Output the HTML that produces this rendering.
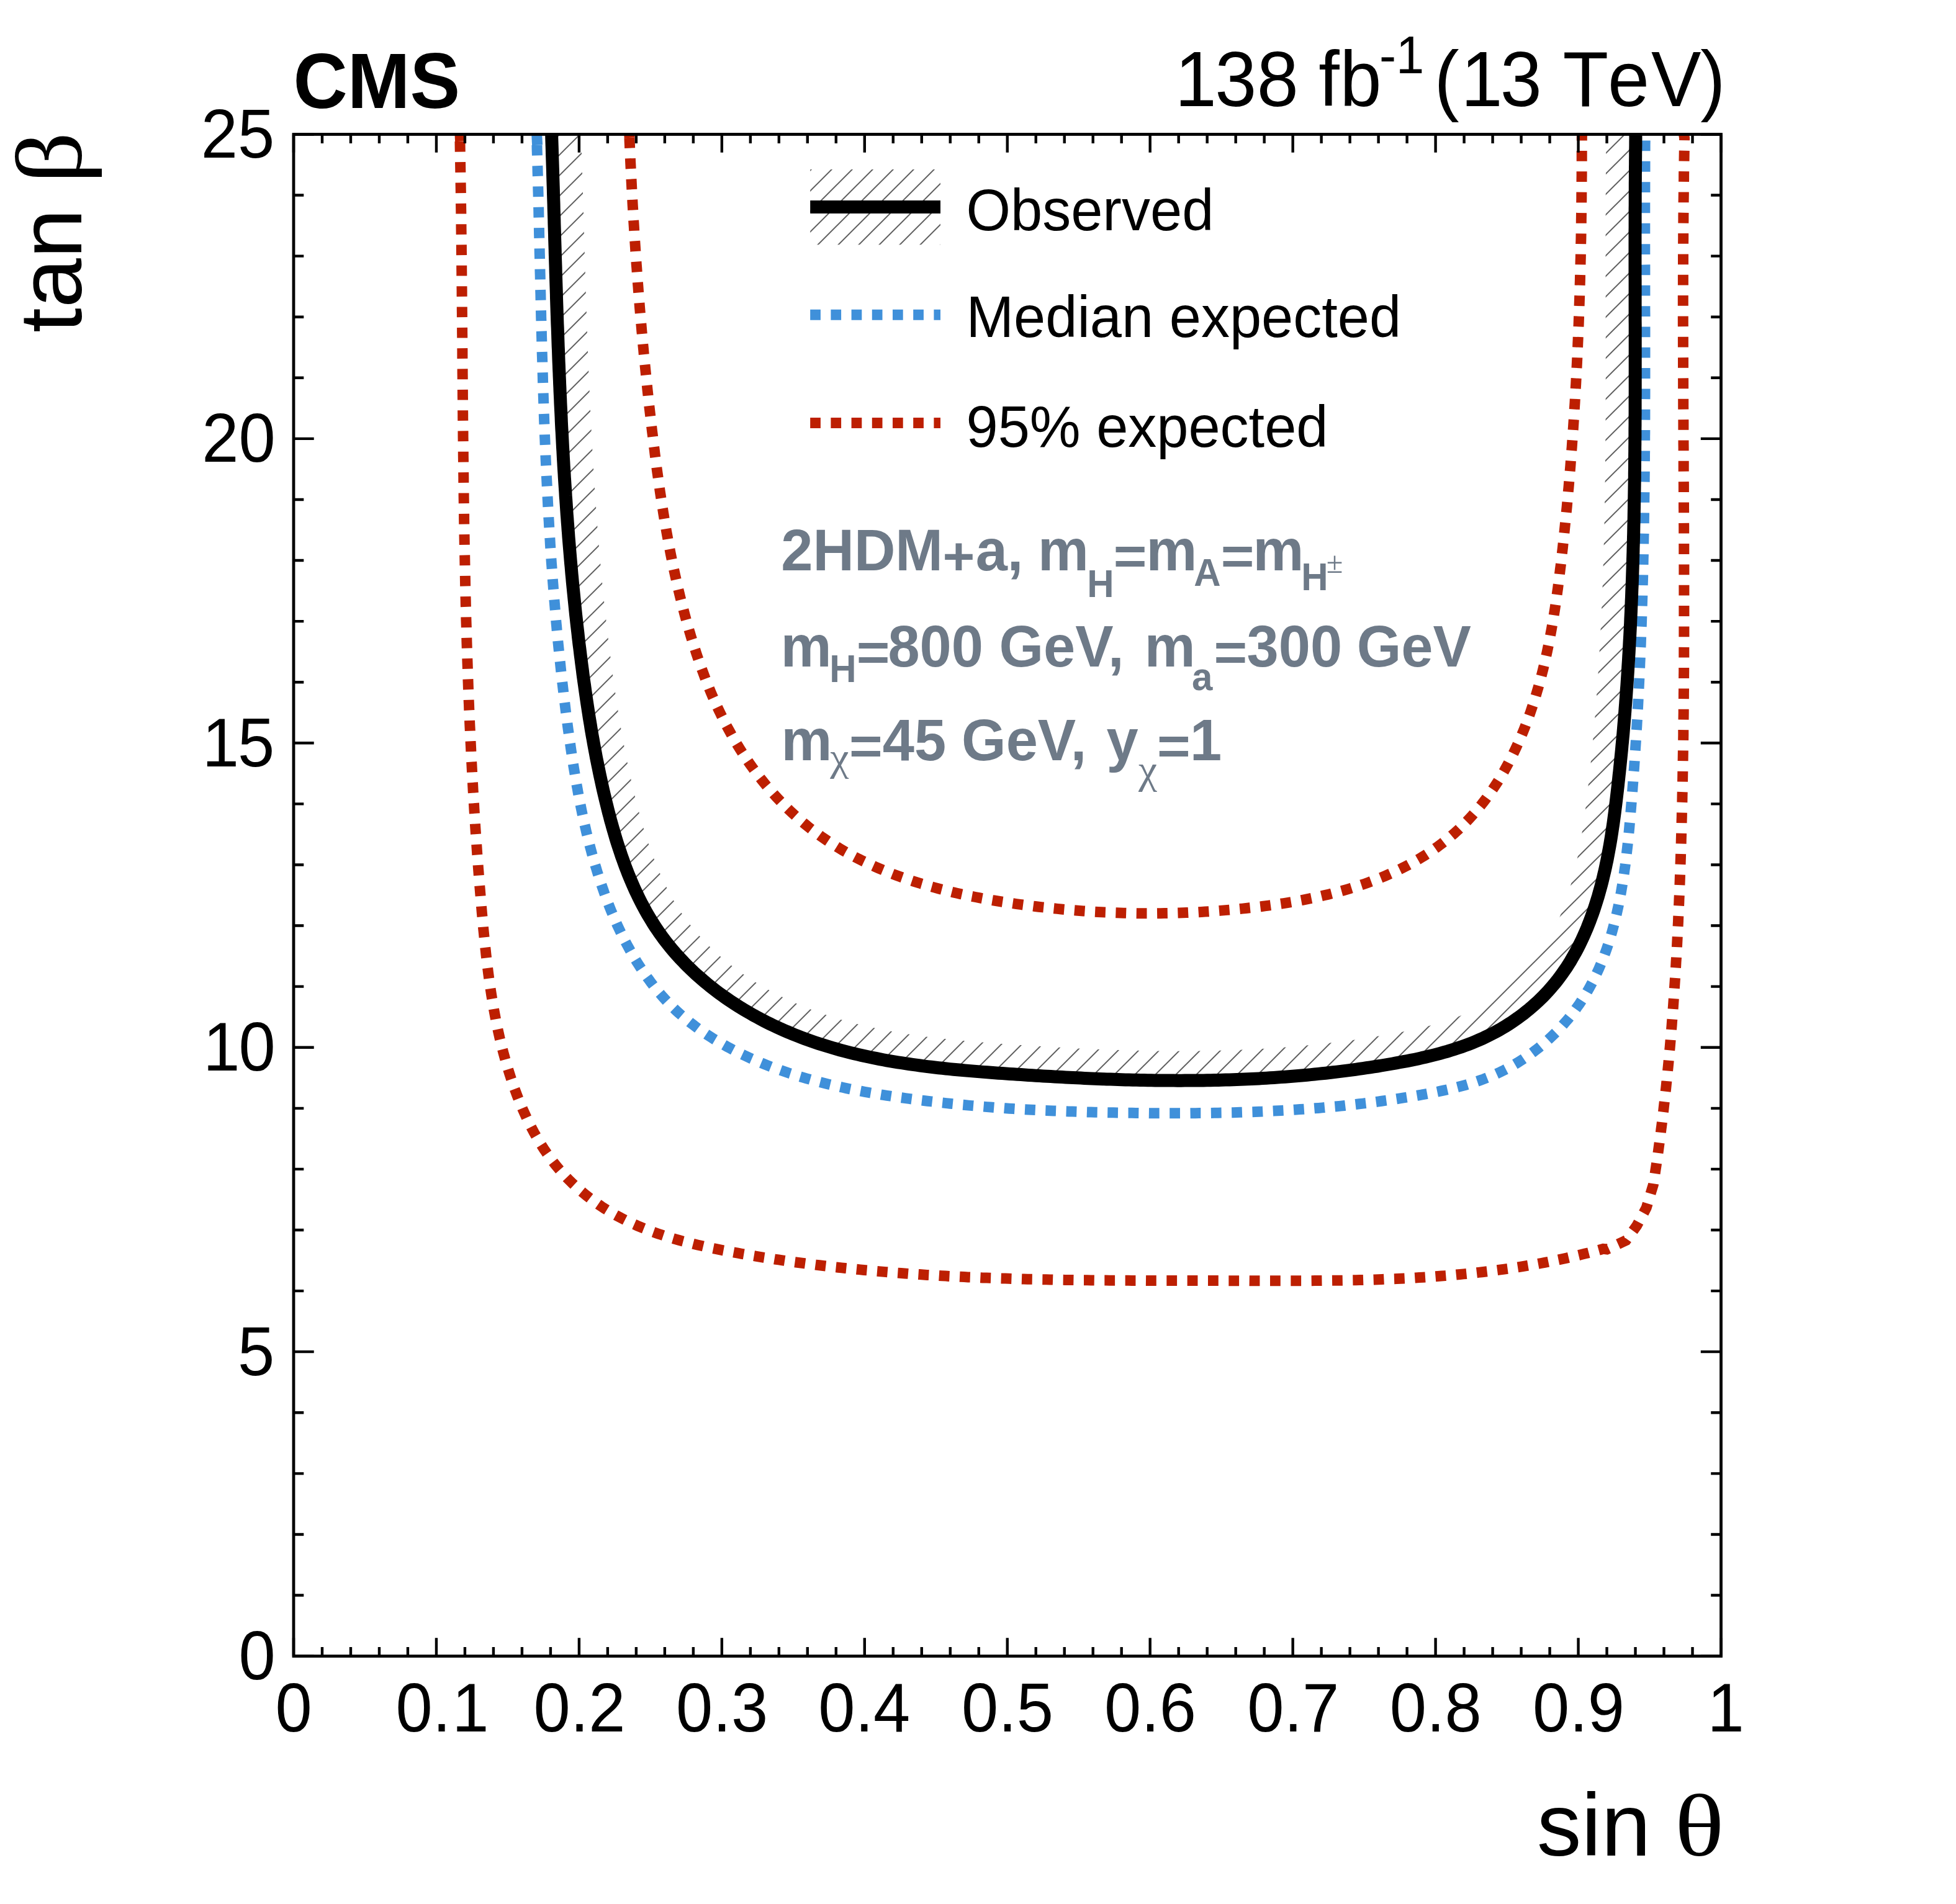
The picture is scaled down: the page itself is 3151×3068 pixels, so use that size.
<!DOCTYPE html>
<html><head><meta charset="utf-8"><title>CMS tan beta vs sin theta</title>
<style>html,body{margin:0;padding:0;background:#fff}svg{display:block}text{font-family:"Liberation Sans",sans-serif}.sy{font-family:"Liberation Serif",serif}</style></head><body>
<svg width="3151" height="3068" viewBox="0 0 3151 3068">
<defs>
<pattern id="h" patternUnits="userSpaceOnUse" width="33" height="33" x="-4.2" y="0"><path d="M-2 35L35 -2M-2 2L2 -2M31 35L35 31" stroke="#505050" stroke-width="1.9" fill="none"/></pattern>
<clipPath id="fr"><rect x="473.00" y="216.45" width="2299.50" height="2452.15"/></clipPath>
</defs>
<rect width="3151" height="3068" fill="#fff"/>
<g clip-path="url(#fr)">
<path d="M888.7 216.5 L888.8 222.7 L889.0 228.6 L889.2 234.6 L889.4 240.5 L889.5 246.5 L889.7 252.4 L889.9 258.4 L890.1 264.3 L890.3 270.3 L890.5 276.2 L890.6 282.2 L890.8 288.2 L891.0 294.1 L891.2 300.1 L891.4 306.1 L891.5 312.0 L891.7 318.0 L891.9 324.0 L892.1 330.0 L892.2 336.0 L892.4 342.0 L892.6 347.9 L892.8 353.9 L892.9 359.9 L893.1 365.9 L893.3 371.9 L893.5 377.9 L893.6 383.9 L893.8 389.9 L894.0 395.9 L894.2 401.9 L894.3 407.9 L894.5 413.9 L894.7 419.9 L894.9 425.9 L895.1 431.9 L895.2 437.9 L895.4 443.9 L895.6 449.9 L895.8 456.0 L896.0 462.0 L896.2 468.0 L896.4 474.0 L896.5 480.0 L896.7 486.0 L896.9 492.1 L897.1 498.1 L897.3 504.1 L897.5 510.1 L897.7 516.1 L897.9 522.2 L898.2 528.2 L898.4 534.2 L898.6 540.2 L898.8 546.3 L899.0 552.3 L899.2 558.3 L899.5 564.3 L899.7 570.4 L899.9 576.4 L900.1 582.4 L900.4 588.5 L900.6 594.5 L900.9 600.5 L901.1 606.5 L901.4 612.6 L901.6 618.6 L901.9 624.6 L902.1 630.7 L902.4 636.7 L902.7 642.7 L902.9 648.7 L903.2 654.8 L903.5 660.8 L903.8 666.8 L904.1 672.9 L904.3 678.9 L904.6 684.9 L904.9 690.9 L905.3 697.0 L905.6 703.0 L905.9 709.0 L906.2 715.0 L906.5 721.1 L906.9 727.1 L907.2 733.1 L907.5 739.1 L907.9 745.2 L908.2 751.2 L908.6 757.2 L909.0 763.2 L909.3 769.2 L909.7 775.3 L910.1 781.3 L910.5 787.3 L910.9 793.3 L911.2 799.3 L911.7 805.3 L912.1 811.3 L912.5 817.3 L912.9 823.4 L913.3 829.4 L913.8 835.4 L914.2 841.4 L914.7 847.4 L915.1 853.4 L915.6 859.4 L916.0 865.4 L916.5 871.4 L917.0 877.4 L917.5 883.4 L918.0 889.4 L918.5 895.3 L919.0 901.3 L919.5 907.3 L920.1 913.3 L920.6 919.3 L921.1 925.3 L921.7 931.2 L922.2 937.2 L922.8 943.2 L923.4 949.2 L924.0 955.1 L924.6 961.1 L925.2 967.1 L925.8 973.0 L926.4 979.0 L927.0 985.0 L927.6 990.9 L928.3 996.9 L928.9 1002.8 L929.6 1008.8 L930.3 1014.7 L931.0 1020.7 L931.6 1026.6 L932.3 1032.5 L933.0 1038.5 L933.8 1044.4 L934.5 1050.3 L935.2 1056.3 L936.0 1062.2 L936.7 1068.1 L937.5 1074.0 L938.3 1080.0 L939.0 1085.9 L939.8 1091.8 L940.6 1097.7 L941.5 1103.6 L942.3 1109.5 L943.1 1115.4 L944.0 1121.3 L944.8 1127.2 L945.7 1133.1 L946.6 1139.0 L947.5 1144.9 L948.4 1150.7 L949.3 1156.6 L950.3 1162.5 L951.3 1168.4 L952.2 1174.3 L953.2 1180.2 L954.2 1186.0 L955.3 1191.9 L956.3 1197.8 L957.4 1203.7 L958.5 1209.5 L959.6 1215.4 L960.7 1221.3 L961.9 1227.2 L963.1 1233.1 L964.3 1238.9 L965.5 1244.8 L966.7 1250.7 L968.0 1256.6 L969.3 1262.5 L970.6 1268.4 L971.9 1274.3 L973.3 1280.1 L974.7 1286.0 L976.1 1291.9 L977.6 1297.8 L979.0 1303.7 L980.5 1309.6 L982.1 1315.5 L983.6 1321.4 L985.3 1327.3 L986.9 1333.2 L988.6 1339.0 L990.3 1344.9 L992.0 1350.7 L993.8 1356.6 L995.7 1362.4 L997.6 1368.2 L999.5 1373.9 L1001.4 1379.7 L1003.5 1385.4 L1005.5 1391.2 L1007.6 1396.9 L1009.8 1402.5 L1012.0 1408.2 L1014.3 1413.8 L1016.6 1419.3 L1019.0 1424.9 L1021.4 1430.4 L1023.9 1435.9 L1026.5 1441.3 L1029.1 1446.7 L1031.8 1452.1 L1034.5 1457.4 L1037.4 1462.7 L1040.2 1468.0 L1043.2 1473.2 L1046.2 1478.3 L1049.3 1483.4 L1052.4 1488.4 L1055.6 1493.4 L1059.0 1498.4 L1062.3 1503.3 L1065.8 1508.1 L1069.3 1512.9 L1072.9 1517.6 L1076.6 1522.3 L1080.3 1526.9 L1084.1 1531.5 L1088.0 1536.0 L1092.0 1540.4 L1096.0 1544.8 L1100.1 1549.1 L1104.2 1553.4 L1108.4 1557.6 L1112.7 1561.8 L1117.0 1565.9 L1121.4 1569.9 L1125.9 1573.9 L1130.4 1577.8 L1134.9 1581.7 L1139.5 1585.5 L1144.2 1589.3 L1148.9 1593.0 L1153.7 1596.7 L1158.5 1600.3 L1163.3 1603.8 L1168.2 1607.3 L1173.2 1610.7 L1178.1 1614.1 L1183.2 1617.4 L1188.2 1620.6 L1193.3 1623.8 L1198.5 1626.9 L1203.7 1630.0 L1208.9 1633.0 L1214.1 1636.0 L1219.4 1638.9 L1224.7 1641.8 L1230.1 1644.6 L1235.4 1647.3 L1240.8 1650.0 L1246.2 1652.6 L1251.7 1655.1 L1257.2 1657.7 L1262.6 1660.1 L1268.2 1662.5 L1273.7 1664.8 L1279.2 1667.1 L1284.8 1669.3 L1290.4 1671.5 L1296.0 1673.6 L1301.6 1675.6 L1307.2 1677.6 L1312.9 1679.6 L1318.5 1681.5 L1324.2 1683.3 L1329.9 1685.1 L1335.6 1686.8 L1341.3 1688.5 L1347.1 1690.2 L1352.8 1691.8 L1358.6 1693.3 L1364.3 1694.8 L1370.1 1696.3 L1375.9 1697.7 L1381.8 1699.1 L1387.6 1700.5 L1393.4 1701.8 L1399.3 1703.0 L1405.1 1704.2 L1411.0 1705.4 L1416.9 1706.6 L1422.8 1707.7 L1428.6 1708.8 L1434.6 1709.8 L1440.5 1710.8 L1446.4 1711.8 L1452.3 1712.7 L1458.3 1713.7 L1464.2 1714.5 L1470.2 1715.4 L1476.1 1716.2 L1482.1 1717.0 L1488.1 1717.8 L1494.1 1718.6 L1500.0 1719.3 L1506.0 1720.0 L1512.0 1720.7 L1518.0 1721.3 L1524.0 1722.0 L1530.1 1722.6 L1536.1 1723.2 L1542.1 1723.8 L1548.1 1724.3 L1554.1 1724.9 L1560.2 1725.4 L1566.2 1725.9 L1572.2 1726.4 L1578.2 1726.9 L1584.3 1727.4 L1590.3 1727.8 L1596.3 1728.3 L1602.4 1728.7 L1608.4 1729.2 L1614.4 1729.6 L1620.5 1730.0 L1626.5 1730.4 L1632.5 1730.8 L1638.6 1731.2 L1644.6 1731.6 L1650.6 1732.0 L1656.7 1732.4 L1662.7 1732.8 L1668.7 1733.2 L1674.7 1733.5 L1680.7 1733.9 L1686.8 1734.2 L1692.8 1734.6 L1698.8 1734.9 L1704.8 1735.3 L1710.8 1735.6 L1716.8 1735.9 L1722.8 1736.2 L1728.8 1736.5 L1734.9 1736.8 L1740.9 1737.1 L1746.9 1737.4 L1752.9 1737.7 L1758.9 1737.9 L1764.9 1738.2 L1770.9 1738.4 L1776.9 1738.7 L1782.9 1738.9 L1788.9 1739.1 L1794.9 1739.3 L1800.9 1739.5 L1806.9 1739.7 L1812.9 1739.9 L1818.9 1740.0 L1824.8 1740.2 L1830.8 1740.3 L1836.8 1740.5 L1842.8 1740.6 L1848.8 1740.7 L1854.8 1740.8 L1860.8 1740.9 L1866.8 1741.0 L1872.8 1741.0 L1878.7 1741.1 L1884.7 1741.1 L1890.7 1741.1 L1896.7 1741.2 L1902.7 1741.2 L1908.7 1741.1 L1914.6 1741.1 L1920.6 1741.1 L1926.6 1741.0 L1932.6 1741.0 L1938.6 1740.9 L1944.5 1740.8 L1950.5 1740.7 L1956.5 1740.6 L1962.5 1740.4 L1968.4 1740.3 L1974.4 1740.1 L1980.4 1739.9 L1986.4 1739.7 L1992.3 1739.5 L1998.3 1739.3 L2004.3 1739.0 L2010.3 1738.8 L2016.2 1738.5 L2022.2 1738.2 L2028.2 1737.9 L2034.1 1737.5 L2040.1 1737.2 L2046.1 1736.8 L2052.1 1736.4 L2058.0 1736.0 L2064.0 1735.6 L2070.0 1735.2 L2075.9 1734.7 L2081.9 1734.3 L2087.9 1733.8 L2093.8 1733.3 L2099.8 1732.7 L2105.8 1732.2 L2111.8 1731.6 L2117.7 1731.0 L2123.7 1730.4 L2129.7 1729.8 L2135.6 1729.2 L2141.6 1728.5 L2147.6 1727.8 L2153.5 1727.1 L2159.5 1726.4 L2165.5 1725.6 L2171.5 1724.9 L2177.4 1724.1 L2183.4 1723.3 L2189.4 1722.4 L2195.3 1721.6 L2201.3 1720.7 L2207.3 1719.8 L2213.2 1718.9 L2219.2 1718.0 L2225.2 1717.0 L2231.2 1716.0 L2237.1 1715.0 L2243.1 1714.0 L2249.1 1712.9 L2255.0 1711.8 L2261.0 1710.7 L2267.0 1709.6 L2272.9 1708.4 L2278.9 1707.2 L2284.8 1705.9 L2290.7 1704.6 L2296.6 1703.2 L2302.5 1701.8 L2308.4 1700.4 L2314.3 1698.9 L2320.1 1697.3 L2325.9 1695.7 L2331.7 1694.1 L2337.5 1692.3 L2343.2 1690.5 L2349.0 1688.6 L2354.6 1686.7 L2360.3 1684.7 L2365.9 1682.6 L2371.5 1680.4 L2377.0 1678.1 L2382.5 1675.8 L2388.0 1673.4 L2393.4 1670.8 L2398.8 1668.2 L2404.1 1665.5 L2409.4 1662.7 L2414.7 1659.8 L2419.9 1656.8 L2425.0 1653.7 L2430.1 1650.5 L2435.1 1647.3 L2440.0 1643.9 L2444.9 1640.5 L2449.8 1636.9 L2454.5 1633.3 L2459.2 1629.6 L2463.9 1625.8 L2468.4 1621.9 L2472.9 1617.9 L2477.3 1613.9 L2481.6 1609.7 L2485.9 1605.5 L2490.0 1601.2 L2494.1 1596.8 L2498.1 1592.4 L2502.0 1587.8 L2505.8 1583.2 L2509.5 1578.6 L2513.1 1573.8 L2516.6 1569.0 L2520.0 1564.1 L2523.4 1559.1 L2526.6 1554.1 L2529.8 1549.0 L2532.8 1543.8 L2535.8 1538.6 L2538.7 1533.4 L2541.5 1528.1 L2544.2 1522.7 L2546.9 1517.3 L2549.4 1511.9 L2551.9 1506.4 L2554.3 1500.9 L2556.7 1495.3 L2558.9 1489.7 L2561.1 1484.1 L2563.2 1478.4 L2565.3 1472.8 L2567.3 1467.1 L2569.2 1461.3 L2571.0 1455.6 L2572.8 1449.9 L2574.6 1444.1 L2576.2 1438.3 L2577.8 1432.5 L2579.4 1426.7 L2580.9 1420.9 L2582.3 1415.1 L2583.7 1409.2 L2585.1 1403.4 L2586.4 1397.5 L2587.6 1391.6 L2588.9 1385.8 L2590.0 1379.9 L2591.1 1374.0 L2592.2 1368.1 L2593.3 1362.2 L2594.3 1356.2 L2595.3 1350.3 L2596.2 1344.4 L2597.1 1338.4 L2598.0 1332.5 L2598.9 1326.5 L2599.7 1320.6 L2600.5 1314.6 L2601.3 1308.7 L2602.0 1302.7 L2602.8 1296.7 L2603.5 1290.7 L2604.2 1284.8 L2604.9 1278.8 L2605.6 1272.8 L2606.3 1266.8 L2606.9 1260.9 L2607.6 1254.9 L2608.2 1248.9 L2608.9 1242.9 L2609.5 1236.9 L2610.1 1231.0 L2610.7 1225.0 L2611.3 1219.0 L2611.9 1213.0 L2612.5 1207.0 L2613.0 1201.0 L2613.6 1195.1 L2614.1 1189.1 L2614.7 1183.1 L2615.2 1177.1 L2615.7 1171.1 L2616.2 1165.1 L2616.7 1159.2 L2617.2 1153.2 L2617.7 1147.2 L2618.1 1141.2 L2618.6 1135.2 L2619.0 1129.2 L2619.5 1123.2 L2619.9 1117.2 L2620.3 1111.2 L2620.8 1105.3 L2621.2 1099.3 L2621.6 1093.3 L2622.0 1087.3 L2622.4 1081.3 L2622.7 1075.3 L2623.1 1069.3 L2623.5 1063.3 L2623.8 1057.3 L2624.2 1051.3 L2624.5 1045.3 L2624.8 1039.3 L2625.1 1033.3 L2625.5 1027.3 L2625.8 1021.3 L2626.1 1015.3 L2626.4 1009.4 L2626.7 1003.4 L2626.9 997.4 L2627.2 991.4 L2627.5 985.4 L2627.7 979.4 L2628.0 973.4 L2628.2 967.4 L2628.5 961.4 L2628.7 955.4 L2628.9 949.4 L2629.2 943.4 L2629.4 937.4 L2629.6 931.4 L2629.8 925.4 L2630.0 919.4 L2630.2 913.4 L2630.4 907.4 L2630.5 901.4 L2630.7 895.4 L2630.9 889.4 L2631.0 883.4 L2631.2 877.3 L2631.4 871.3 L2631.5 865.3 L2631.7 859.3 L2631.8 853.3 L2631.9 847.3 L2632.1 841.3 L2632.2 835.3 L2632.3 829.3 L2632.4 823.3 L2632.5 817.3 L2632.6 811.3 L2632.7 805.3 L2632.8 799.3 L2632.9 793.3 L2633.0 787.3 L2633.1 781.3 L2633.2 775.3 L2633.3 769.3 L2633.3 763.2 L2633.4 757.2 L2633.5 751.2 L2633.5 745.2 L2633.6 739.2 L2633.6 733.2 L2633.7 727.2 L2633.7 721.2 L2633.8 715.2 L2633.8 709.2 L2633.9 703.2 L2633.9 697.2 L2633.9 691.1 L2634.0 685.1 L2634.0 679.1 L2634.0 673.1 L2634.1 667.1 L2634.1 661.1 L2634.1 655.1 L2634.1 649.1 L2634.1 643.1 L2634.2 637.1 L2634.2 631.1 L2634.2 625.0 L2634.2 619.0 L2634.2 613.0 L2634.2 607.0 L2634.2 601.0 L2634.2 595.0 L2634.2 589.0 L2634.2 583.0 L2634.2 577.0 L2634.2 571.0 L2634.2 564.9 L2634.2 558.9 L2634.2 552.9 L2634.2 546.9 L2634.2 540.9 L2634.2 534.9 L2634.2 528.9 L2634.2 522.9 L2634.1 516.9 L2634.1 510.9 L2634.1 504.8 L2634.1 498.8 L2634.1 492.8 L2634.1 486.8 L2634.1 480.8 L2634.1 474.8 L2634.1 468.8 L2634.1 462.8 L2634.1 456.8 L2634.1 450.8 L2634.0 444.8 L2634.0 438.7 L2634.0 432.7 L2634.0 426.7 L2634.0 420.7 L2634.0 414.7 L2634.0 408.7 L2634.0 402.7 L2634.0 396.7 L2634.0 390.7 L2634.0 384.7 L2634.0 378.7 L2634.0 372.6 L2634.1 366.6 L2634.1 360.6 L2634.1 354.6 L2634.1 348.6 L2634.1 342.6 L2634.1 336.6 L2634.2 330.6 L2634.2 324.6 L2634.2 318.6 L2634.2 312.6 L2634.3 306.6 L2634.3 300.6 L2634.3 294.6 L2634.4 288.6 L2634.4 282.5 L2634.5 276.5 L2634.5 270.5 L2634.6 264.5 L2634.6 258.5 L2634.7 252.5 L2634.7 246.5 L2634.8 240.5 L2634.9 234.5 L2634.9 228.5 L2635.0 222.5 L2634.9 216.5 L2587.4 217.3 L2587.5 222.6 L2587.4 227.9 L2587.4 234.0 L2587.3 240.0 L2587.2 246.0 L2587.2 252.1 L2587.1 258.1 L2587.1 264.1 L2587.0 270.1 L2587.0 276.2 L2586.9 282.2 L2586.9 288.2 L2586.8 294.3 L2586.8 300.3 L2586.8 306.3 L2586.7 312.3 L2586.7 318.4 L2586.7 324.4 L2586.7 330.4 L2586.6 336.4 L2586.6 342.5 L2586.6 348.5 L2586.6 354.5 L2586.6 360.5 L2586.6 366.6 L2586.5 372.6 L2586.5 378.6 L2586.5 384.6 L2586.5 390.6 L2586.5 396.7 L2586.5 402.7 L2586.5 408.7 L2586.5 414.7 L2586.5 420.7 L2586.5 426.8 L2586.5 432.8 L2586.5 438.8 L2586.5 444.8 L2586.6 450.8 L2586.6 456.8 L2586.6 462.8 L2586.6 468.9 L2586.6 474.9 L2586.6 480.9 L2586.6 486.9 L2586.6 492.9 L2586.6 498.9 L2586.6 504.9 L2586.6 510.9 L2586.6 516.9 L2586.7 522.9 L2586.7 528.9 L2586.7 535.0 L2586.7 541.0 L2586.7 547.0 L2586.7 553.0 L2586.7 559.0 L2586.7 565.0 L2586.7 571.0 L2586.7 577.0 L2586.7 583.0 L2586.7 589.0 L2586.7 595.0 L2586.7 601.0 L2586.7 607.0 L2586.7 613.0 L2586.7 619.0 L2586.7 625.0 L2586.7 631.0 L2586.7 637.0 L2586.6 643.0 L2586.6 648.9 L2586.6 654.9 L2586.6 660.9 L2586.6 666.9 L2586.5 672.9 L2586.5 678.9 L2586.5 684.9 L2586.4 690.9 L2586.4 696.9 L2586.4 702.9 L2586.3 708.8 L2586.3 714.8 L2586.2 720.8 L2586.2 726.8 L2586.1 732.8 L2586.1 738.8 L2586.0 744.7 L2586.0 750.7 L2585.9 756.7 L2585.8 762.7 L2585.8 768.7 L2585.7 774.6 L2585.6 780.6 L2585.5 786.6 L2585.4 792.6 L2585.3 798.5 L2585.2 804.5 L2585.1 810.5 L2585.0 816.4 L2584.9 822.4 L2584.8 828.4 L2584.7 834.4 L2584.6 840.3 L2584.4 846.3 L2584.3 852.3 L2584.2 858.2 L2584.0 864.2 L2583.9 870.2 L2583.7 876.1 L2583.6 882.1 L2583.4 888.0 L2583.2 894.0 L2583.1 900.0 L2582.9 905.9 L2582.7 911.9 L2582.5 917.8 L2582.3 923.8 L2582.1 929.7 L2581.9 935.7 L2581.7 941.6 L2581.5 947.6 L2581.2 953.5 L2581.0 959.5 L2580.8 965.4 L2580.5 971.4 L2580.3 977.3 L2580.0 983.3 L2579.8 989.2 L2579.5 995.2 L2579.2 1001.1 L2578.9 1007.1 L2578.6 1013.0 L2578.3 1018.9 L2578.0 1024.9 L2577.7 1030.8 L2577.4 1036.7 L2577.1 1042.7 L2576.7 1048.6 L2576.4 1054.6 L2576.0 1060.5 L2575.7 1066.4 L2575.3 1072.3 L2574.9 1078.3 L2574.6 1084.2 L2574.2 1090.1 L2573.8 1096.1 L2573.4 1102.0 L2573.0 1107.9 L2572.5 1113.8 L2572.1 1119.8 L2571.7 1125.7 L2571.2 1131.6 L2570.8 1137.5 L2570.3 1143.4 L2569.8 1149.3 L2569.4 1155.3 L2568.9 1161.2 L2568.4 1167.1 L2567.9 1173.0 L2567.3 1178.9 L2566.8 1184.8 L2566.3 1190.7 L2565.7 1196.6 L2565.2 1202.5 L2564.6 1208.5 L2564.0 1214.4 L2563.4 1220.3 L2562.9 1226.2 L2562.3 1232.1 L2561.6 1238.0 L2561.0 1243.9 L2560.4 1249.8 L2559.7 1255.7 L2559.1 1261.6 L2558.4 1267.4 L2557.7 1273.3 L2557.1 1279.2 L2556.4 1285.1 L2555.6 1290.9 L2554.9 1296.7 L2554.2 1302.5 L2553.4 1308.3 L2552.6 1314.1 L2551.8 1319.9 L2551.0 1325.6 L2550.2 1331.3 L2549.3 1337.0 L2548.4 1342.7 L2547.4 1348.4 L2546.5 1354.0 L2545.5 1359.6 L2544.5 1365.2 L2543.4 1370.8 L2542.3 1376.4 L2541.2 1381.9 L2540.0 1387.4 L2538.8 1392.9 L2537.5 1398.4 L2536.2 1403.8 L2534.9 1409.2 L2533.5 1414.6 L2532.0 1420.0 L2530.5 1425.4 L2529.0 1430.7 L2527.4 1436.0 L2525.8 1441.2 L2524.1 1446.5 L2522.3 1451.7 L2520.5 1456.9 L2518.7 1462.0 L2516.7 1467.1 L2514.8 1472.2 L2512.7 1477.2 L2511.6 1479.9 L2356.1 1635.4 L2353.9 1636.3 L2349.0 1638.2 L2344.0 1640.1 L2338.9 1641.9 L2333.9 1643.6 L2328.7 1645.3 L2323.5 1646.9 L2318.3 1648.5 L2313.0 1650.0 L2307.7 1651.5 L2302.3 1652.9 L2296.9 1654.3 L2291.4 1655.7 L2285.9 1657.0 L2280.4 1658.2 L2274.8 1659.5 L2269.2 1660.7 L2263.5 1661.8 L2257.9 1662.9 L2252.2 1664.0 L2246.4 1665.1 L2240.7 1666.1 L2234.9 1667.2 L2229.1 1668.2 L2223.3 1669.2 L2217.5 1670.1 L2211.7 1671.0 L2205.9 1672.0 L2200.1 1672.9 L2194.3 1673.7 L2188.5 1674.6 L2182.7 1675.4 L2176.9 1676.2 L2171.1 1677.0 L2165.3 1677.8 L2159.5 1678.5 L2153.7 1679.2 L2147.9 1680.0 L2142.1 1680.6 L2136.3 1681.3 L2130.5 1682.0 L2124.6 1682.6 L2118.8 1683.2 L2113.0 1683.8 L2107.2 1684.3 L2101.4 1684.9 L2095.6 1685.4 L2089.7 1685.9 L2083.9 1686.4 L2078.1 1686.9 L2072.3 1687.4 L2066.4 1687.8 L2060.6 1688.2 L2054.8 1688.7 L2049.0 1689.0 L2043.1 1689.4 L2037.3 1689.8 L2031.5 1690.1 L2025.6 1690.4 L2019.8 1690.7 L2013.9 1691.0 L2008.1 1691.3 L2002.3 1691.6 L1996.4 1691.8 L1990.6 1692.0 L1984.7 1692.2 L1978.9 1692.4 L1973.0 1692.6 L1967.2 1692.8 L1961.3 1692.9 L1955.4 1693.1 L1949.6 1693.2 L1943.7 1693.3 L1937.9 1693.4 L1932.0 1693.5 L1926.1 1693.5 L1920.2 1693.6 L1914.4 1693.6 L1908.5 1693.6 L1902.6 1693.7 L1896.7 1693.7 L1890.9 1693.6 L1885.0 1693.6 L1879.1 1693.6 L1873.2 1693.5 L1867.3 1693.5 L1861.4 1693.4 L1855.5 1693.3 L1849.6 1693.2 L1843.7 1693.1 L1837.8 1693.0 L1831.9 1692.8 L1826.0 1692.7 L1820.1 1692.6 L1814.2 1692.4 L1808.3 1692.2 L1802.4 1692.0 L1796.5 1691.8 L1790.6 1691.6 L1784.6 1691.4 L1778.7 1691.2 L1772.8 1691.0 L1766.8 1690.7 L1760.9 1690.5 L1755.0 1690.2 L1749.0 1689.9 L1743.1 1689.7 L1737.2 1689.4 L1731.2 1689.1 L1725.3 1688.8 L1719.3 1688.5 L1713.4 1688.2 L1707.4 1687.8 L1701.5 1687.5 L1695.5 1687.2 L1689.5 1686.8 L1683.6 1686.5 L1677.6 1686.1 L1671.6 1685.7 L1665.6 1685.4 L1659.7 1685.0 L1653.7 1684.6 L1647.7 1684.2 L1641.7 1683.8 L1635.7 1683.4 L1629.7 1683.0 L1623.7 1682.6 L1617.8 1682.2 L1611.8 1681.8 L1605.8 1681.3 L1599.9 1680.9 L1593.9 1680.5 L1588.0 1680.0 L1582.0 1679.5 L1576.1 1679.1 L1570.2 1678.6 L1564.2 1678.1 L1558.3 1677.5 L1552.4 1677.0 L1546.6 1676.5 L1540.7 1675.9 L1534.8 1675.3 L1529.0 1674.7 L1523.1 1674.1 L1517.3 1673.5 L1511.5 1672.8 L1505.7 1672.1 L1499.9 1671.4 L1494.1 1670.7 L1488.3 1669.9 L1482.6 1669.2 L1476.8 1668.4 L1471.1 1667.5 L1465.4 1666.7 L1459.7 1665.8 L1454.0 1664.9 L1448.3 1664.0 L1442.7 1663.0 L1437.1 1662.0 L1431.4 1661.0 L1425.8 1659.9 L1420.2 1658.8 L1414.7 1657.7 L1409.1 1656.6 L1403.6 1655.4 L1398.1 1654.1 L1392.6 1652.9 L1387.1 1651.6 L1381.6 1650.2 L1376.2 1648.8 L1370.8 1647.4 L1365.4 1646.0 L1360.0 1644.5 L1354.6 1642.9 L1349.3 1641.3 L1344.0 1639.7 L1338.7 1638.0 L1333.4 1636.3 L1328.1 1634.6 L1322.9 1632.8 L1317.7 1630.9 L1312.5 1629.0 L1307.3 1627.1 L1302.2 1625.1 L1297.0 1623.0 L1291.9 1621.0 L1286.8 1618.8 L1281.8 1616.6 L1276.7 1614.4 L1271.7 1612.1 L1266.7 1609.7 L1261.7 1607.3 L1256.8 1604.9 L1251.8 1602.3 L1247.0 1599.8 L1242.1 1597.2 L1237.3 1594.5 L1232.5 1591.8 L1227.7 1589.1 L1223.0 1586.2 L1218.3 1583.4 L1213.7 1580.5 L1209.1 1577.5 L1204.5 1574.5 L1200.0 1571.5 L1195.5 1568.4 L1191.1 1565.2 L1186.7 1562.0 L1182.3 1558.8 L1178.0 1555.5 L1173.8 1552.2 L1169.6 1548.8 L1165.5 1545.3 L1161.4 1541.9 L1157.4 1538.4 L1153.4 1534.8 L1149.5 1531.2 L1145.6 1527.5 L1141.8 1523.8 L1138.1 1520.1 L1134.4 1516.3 L1130.8 1512.4 L1127.2 1508.6 L1123.7 1504.6 L1120.3 1500.7 L1117.0 1496.7 L1113.7 1492.6 L1110.5 1488.5 L1107.3 1484.4 L1104.2 1480.2 L1101.2 1476.0 L1098.3 1471.7 L1095.4 1467.4 L1092.5 1463.0 L1089.7 1458.5 L1087.0 1454.0 L1084.3 1449.4 L1081.7 1444.8 L1079.1 1440.1 L1076.6 1435.4 L1074.2 1430.6 L1071.7 1425.8 L1069.4 1420.9 L1067.1 1415.9 L1064.8 1411.0 L1062.6 1405.9 L1060.4 1400.8 L1058.2 1395.7 L1056.1 1390.5 L1054.1 1385.3 L1052.1 1380.1 L1050.1 1374.8 L1048.2 1369.5 L1046.3 1364.1 L1044.5 1358.8 L1042.7 1353.3 L1040.9 1347.9 L1039.2 1342.4 L1037.5 1336.9 L1035.8 1331.4 L1034.2 1325.8 L1032.6 1320.2 L1031.0 1314.6 L1029.5 1309.0 L1028.0 1303.4 L1026.5 1297.7 L1025.1 1292.1 L1023.7 1286.4 L1022.3 1280.7 L1020.9 1275.0 L1019.5 1269.3 L1018.2 1263.6 L1016.9 1257.9 L1015.7 1252.2 L1014.4 1246.5 L1013.2 1240.8 L1012.0 1235.1 L1010.8 1229.4 L1009.6 1223.7 L1008.5 1218.0 L1007.4 1212.2 L1006.3 1206.5 L1005.2 1200.8 L1004.1 1195.1 L1003.1 1189.3 L1002.0 1183.6 L1001.0 1177.9 L1000.0 1172.1 L999.1 1166.4 L998.1 1160.6 L997.2 1154.9 L996.2 1149.1 L995.3 1143.4 L994.4 1137.6 L993.5 1131.8 L992.7 1126.0 L991.8 1120.3 L991.0 1114.5 L990.1 1108.7 L989.3 1102.9 L988.5 1097.1 L987.7 1091.2 L986.9 1085.4 L986.1 1079.6 L985.3 1073.8 L984.6 1067.9 L983.8 1062.1 L983.1 1056.2 L982.4 1050.4 L981.6 1044.5 L980.9 1038.7 L980.2 1032.8 L979.5 1027.0 L978.8 1021.1 L978.1 1015.2 L977.5 1009.4 L976.8 1003.5 L976.2 997.6 L975.5 991.7 L974.9 985.9 L974.3 980.0 L973.6 974.1 L973.0 968.2 L972.4 962.3 L971.8 956.4 L971.2 950.5 L970.7 944.6 L970.1 938.7 L969.5 932.8 L969.0 926.9 L968.4 920.9 L967.9 915.0 L967.4 909.1 L966.8 903.2 L966.3 897.2 L965.8 891.3 L965.3 885.4 L964.8 879.5 L964.3 873.5 L963.9 867.6 L963.4 861.6 L962.9 855.7 L962.5 849.8 L962.0 843.8 L961.6 837.9 L961.1 831.9 L960.7 826.0 L960.3 820.0 L959.9 814.0 L959.5 808.1 L959.0 802.1 L958.6 796.2 L958.2 790.2 L957.9 784.2 L957.5 778.3 L957.1 772.3 L956.7 766.3 L956.4 760.3 L956.0 754.4 L955.6 748.4 L955.3 742.4 L955.0 736.4 L954.6 730.4 L954.3 724.5 L954.0 718.5 L953.6 712.5 L953.3 706.5 L953.0 700.5 L952.7 694.5 L952.4 688.5 L952.1 682.6 L951.8 676.6 L951.5 670.6 L951.2 664.6 L950.9 658.6 L950.7 652.6 L950.4 646.6 L950.1 640.6 L949.8 634.6 L949.6 628.6 L949.3 622.6 L949.1 616.6 L948.8 610.6 L948.6 604.6 L948.3 598.6 L948.1 592.6 L947.8 586.6 L947.6 580.6 L947.4 574.6 L947.1 568.6 L946.9 562.6 L946.7 556.6 L946.5 550.6 L946.3 544.6 L946.0 538.5 L945.8 532.5 L945.6 526.5 L945.4 520.5 L945.2 514.5 L945.0 508.5 L944.8 502.5 L944.6 496.5 L944.4 490.5 L944.2 484.5 L944.0 478.5 L943.8 472.5 L943.6 466.5 L943.5 460.5 L943.3 454.5 L943.1 448.5 L942.9 442.5 L942.7 436.5 L942.5 430.5 L942.4 424.5 L942.2 418.5 L942.0 412.5 L941.8 406.5 L941.6 400.5 L941.5 394.5 L941.3 388.5 L941.1 382.5 L940.9 376.5 L940.8 370.5 L940.6 364.5 L940.4 358.5 L940.2 352.5 L940.1 346.6 L939.9 340.6 L939.7 334.6 L939.5 328.6 L939.4 322.6 L939.2 316.6 L939.0 310.6 L938.8 304.7 L938.7 298.7 L938.5 292.7 L938.3 286.7 L938.1 280.8 L937.9 274.8 L937.8 268.8 L937.6 262.9 L937.4 256.9 L937.2 250.9 L937.0 245.0 L936.8 239.0 L936.6 233.0 L936.4 227.1 L936.3 221.6 L936.2 215.9Z" fill="url(#h)"/>
<path d="M741.0 216.5 L740.9 222.5 L741.0 228.5 L741.1 234.5 L741.2 240.5 L741.3 246.5 L741.4 252.5 L741.5 258.5 L741.6 264.5 L741.7 270.6 L741.8 276.6 L741.9 282.6 L742.0 288.6 L742.1 294.6 L742.2 300.6 L742.3 306.6 L742.4 312.6 L742.4 318.7 L742.5 324.7 L742.6 330.7 L742.7 336.7 L742.8 342.7 L742.8 348.7 L742.9 354.7 L743.0 360.7 L743.0 366.8 L743.1 372.8 L743.2 378.8 L743.2 384.8 L743.3 390.8 L743.4 396.8 L743.4 402.8 L743.5 408.8 L743.6 414.8 L743.6 420.8 L743.7 426.9 L743.7 432.9 L743.8 438.9 L743.8 444.9 L743.9 450.9 L744.0 456.9 L744.0 462.9 L744.1 468.9 L744.1 474.9 L744.2 480.9 L744.2 487.0 L744.3 493.0 L744.3 499.0 L744.4 505.0 L744.4 511.0 L744.5 517.0 L744.5 523.0 L744.6 529.0 L744.6 535.0 L744.7 541.0 L744.7 547.0 L744.8 553.1 L744.8 559.1 L744.9 565.1 L744.9 571.1 L744.9 577.1 L745.0 583.1 L745.0 589.1 L745.1 595.1 L745.1 601.1 L745.2 607.1 L745.2 613.1 L745.3 619.1 L745.3 625.1 L745.4 631.2 L745.4 637.2 L745.5 643.2 L745.5 649.2 L745.6 655.2 L745.6 661.2 L745.7 667.2 L745.7 673.2 L745.8 679.2 L745.9 685.2 L745.9 691.2 L746.0 697.2 L746.0 703.2 L746.1 709.2 L746.2 715.3 L746.2 721.3 L746.3 727.3 L746.3 733.3 L746.4 739.3 L746.5 745.3 L746.5 751.3 L746.6 757.3 L746.7 763.3 L746.8 769.3 L746.8 775.3 L746.9 781.3 L747.0 787.3 L747.1 793.3 L747.1 799.3 L747.2 805.3 L747.3 811.3 L747.4 817.3 L747.5 823.3 L747.6 829.4 L747.6 835.4 L747.7 841.4 L747.8 847.4 L747.9 853.4 L748.0 859.4 L748.1 865.4 L748.2 871.4 L748.3 877.4 L748.4 883.4 L748.5 889.4 L748.7 895.4 L748.8 901.4 L748.9 907.4 L749.0 913.4 L749.1 919.4 L749.3 925.4 L749.4 931.4 L749.5 937.4 L749.6 943.4 L749.8 949.4 L749.9 955.4 L750.0 961.4 L750.2 967.4 L750.3 973.4 L750.5 979.5 L750.6 985.5 L750.8 991.5 L750.9 997.5 L751.1 1003.5 L751.3 1009.5 L751.4 1015.5 L751.6 1021.5 L751.8 1027.5 L751.9 1033.5 L752.1 1039.5 L752.3 1045.5 L752.5 1051.5 L752.7 1057.5 L752.9 1063.5 L753.1 1069.5 L753.3 1075.5 L753.5 1081.5 L753.7 1087.5 L753.9 1093.5 L754.1 1099.5 L754.3 1105.5 L754.5 1111.5 L754.8 1117.5 L755.0 1123.5 L755.2 1129.5 L755.5 1135.5 L755.7 1141.5 L756.0 1147.5 L756.2 1153.5 L756.5 1159.5 L756.7 1165.5 L757.0 1171.5 L757.3 1177.5 L757.5 1183.5 L757.8 1189.5 L758.1 1195.5 L758.4 1201.5 L758.7 1207.5 L758.9 1213.5 L759.2 1219.5 L759.5 1225.5 L759.9 1231.5 L760.2 1237.5 L760.5 1243.5 L760.8 1249.5 L761.1 1255.5 L761.5 1261.5 L761.8 1267.5 L762.1 1273.5 L762.5 1279.5 L762.8 1285.5 L763.2 1291.5 L763.6 1297.5 L763.9 1303.5 L764.3 1309.5 L764.7 1315.5 L765.0 1321.5 L765.4 1327.5 L765.8 1333.5 L766.2 1339.5 L766.6 1345.5 L767.0 1351.5 L767.5 1357.5 L767.9 1363.5 L768.3 1369.5 L768.7 1375.5 L769.2 1381.5 L769.6 1387.5 L770.1 1393.5 L770.5 1399.5 L771.0 1405.5 L771.4 1411.5 L771.9 1417.5 L772.4 1423.5 L772.9 1429.5 L773.4 1435.5 L773.9 1441.5 L774.4 1447.5 L774.9 1453.5 L775.4 1459.5 L775.9 1465.5 L776.4 1471.5 L777.0 1477.5 L777.5 1483.5 L778.1 1489.5 L778.6 1495.5 L779.2 1501.5 L779.8 1507.5 L780.4 1513.5 L781.0 1519.5 L781.6 1525.5 L782.3 1531.5 L782.9 1537.4 L783.6 1543.4 L784.3 1549.4 L785.0 1555.4 L785.8 1561.3 L786.5 1567.3 L787.3 1573.2 L788.1 1579.2 L789.0 1585.1 L789.8 1591.1 L790.7 1597.0 L791.6 1602.9 L792.6 1608.9 L793.6 1614.8 L794.6 1620.7 L795.6 1626.6 L796.7 1632.5 L797.8 1638.3 L798.9 1644.2 L800.1 1650.1 L801.3 1655.9 L802.6 1661.8 L803.9 1667.6 L805.2 1673.5 L806.6 1679.3 L808.0 1685.1 L809.5 1690.9 L811.0 1696.7 L812.6 1702.4 L814.2 1708.2 L815.8 1714.0 L817.5 1719.7 L819.3 1725.4 L821.1 1731.1 L822.9 1736.8 L824.8 1742.5 L826.8 1748.2 L828.8 1753.9 L830.9 1759.5 L833.0 1765.2 L835.2 1770.8 L837.4 1776.4 L839.8 1781.9 L842.1 1787.5 L844.6 1793.0 L847.1 1798.5 L849.6 1804.0 L852.3 1809.4 L855.0 1814.8 L857.8 1820.2 L860.6 1825.5 L863.6 1830.7 L866.6 1835.9 L869.7 1841.1 L872.9 1846.2 L876.1 1851.3 L879.5 1856.3 L882.9 1861.2 L886.5 1866.1 L890.1 1870.9 L893.8 1875.7 L897.6 1880.3 L901.5 1884.9 L905.5 1889.5 L909.5 1893.9 L913.7 1898.3 L917.9 1902.6 L922.2 1906.8 L926.6 1910.9 L931.1 1915.0 L935.7 1919.0 L940.3 1922.8 L944.9 1926.6 L949.7 1930.3 L954.5 1934.0 L959.3 1937.5 L964.3 1940.9 L969.2 1944.3 L974.2 1947.5 L979.3 1950.6 L984.4 1953.7 L989.6 1956.7 L994.8 1959.5 L1000.0 1962.3 L1005.3 1965.0 L1010.6 1967.7 L1016.0 1970.2 L1021.4 1972.7 L1026.8 1975.1 L1032.3 1977.4 L1037.8 1979.6 L1043.3 1981.8 L1048.9 1983.9 L1054.5 1985.9 L1060.1 1987.9 L1065.8 1989.8 L1071.5 1991.7 L1077.2 1993.5 L1082.9 1995.2 L1088.6 1996.9 L1094.4 1998.5 L1100.2 2000.1 L1106.0 2001.6 L1111.9 2003.1 L1117.7 2004.6 L1123.6 2006.0 L1129.5 2007.3 L1135.4 2008.7 L1141.3 2009.9 L1147.2 2011.2 L1153.1 2012.4 L1159.1 2013.6 L1165.0 2014.8 L1170.9 2015.9 L1176.9 2017.0 L1182.9 2018.1 L1188.8 2019.2 L1194.8 2020.3 L1200.7 2021.3 L1206.7 2022.3 L1212.6 2023.3 L1218.6 2024.3 L1224.6 2025.3 L1230.5 2026.3 L1236.5 2027.2 L1242.5 2028.1 L1248.4 2029.1 L1254.4 2029.9 L1260.4 2030.8 L1266.3 2031.7 L1272.3 2032.5 L1278.2 2033.4 L1284.2 2034.2 L1290.2 2035.0 L1296.2 2035.8 L1302.1 2036.6 L1308.1 2037.3 L1314.1 2038.1 L1320.0 2038.8 L1326.0 2039.5 L1332.0 2040.2 L1337.9 2040.9 L1343.9 2041.6 L1349.9 2042.2 L1355.9 2042.9 L1361.8 2043.5 L1367.8 2044.1 L1373.8 2044.7 L1379.8 2045.3 L1385.8 2045.9 L1391.7 2046.5 L1397.7 2047.0 L1403.7 2047.6 L1409.7 2048.1 L1415.6 2048.6 L1421.6 2049.1 L1427.6 2049.6 L1433.6 2050.1 L1439.6 2050.6 L1445.6 2051.1 L1451.5 2051.5 L1457.5 2051.9 L1463.5 2052.4 L1469.5 2052.8 L1475.5 2053.2 L1481.5 2053.6 L1487.4 2054.0 L1493.4 2054.4 L1499.4 2054.7 L1505.4 2055.1 L1511.4 2055.4 L1517.4 2055.8 L1523.4 2056.1 L1529.4 2056.4 L1535.4 2056.7 L1541.3 2057.0 L1547.3 2057.3 L1553.3 2057.6 L1559.3 2057.9 L1565.3 2058.1 L1571.3 2058.4 L1577.3 2058.6 L1583.3 2058.9 L1589.3 2059.1 L1595.3 2059.3 L1601.3 2059.5 L1607.3 2059.7 L1613.3 2059.9 L1619.3 2060.1 L1625.3 2060.3 L1631.3 2060.5 L1637.3 2060.7 L1643.3 2060.8 L1649.3 2061.0 L1655.3 2061.2 L1661.3 2061.3 L1667.3 2061.4 L1673.3 2061.6 L1679.3 2061.7 L1685.3 2061.8 L1691.3 2061.9 L1697.3 2062.1 L1703.3 2062.2 L1709.3 2062.3 L1715.3 2062.4 L1721.3 2062.4 L1727.3 2062.5 L1733.3 2062.6 L1739.3 2062.7 L1745.3 2062.8 L1751.3 2062.8 L1757.3 2062.9 L1763.3 2063.0 L1769.3 2063.0 L1775.3 2063.1 L1781.3 2063.1 L1787.3 2063.2 L1793.3 2063.2 L1799.4 2063.2 L1805.4 2063.3 L1811.4 2063.3 L1817.4 2063.3 L1823.4 2063.4 L1829.4 2063.4 L1835.4 2063.4 L1841.4 2063.4 L1847.4 2063.5 L1853.4 2063.5 L1859.5 2063.5 L1865.5 2063.5 L1871.5 2063.5 L1877.5 2063.5 L1883.5 2063.5 L1889.5 2063.6 L1895.5 2063.6 L1901.5 2063.6 L1907.6 2063.6 L1913.6 2063.6 L1919.6 2063.6 L1925.6 2063.6 L1931.6 2063.6 L1937.6 2063.6 L1943.6 2063.6 L1949.7 2063.6 L1955.7 2063.6 L1961.7 2063.6 L1967.7 2063.6 L1973.7 2063.7 L1979.7 2063.7 L1985.8 2063.7 L1991.8 2063.7 L1997.8 2063.7 L2003.8 2063.7 L2009.8 2063.7 L2015.9 2063.8 L2021.9 2063.8 L2027.9 2063.8 L2033.9 2063.8 L2039.9 2063.8 L2045.9 2063.8 L2052.0 2063.8 L2058.0 2063.8 L2064.0 2063.8 L2070.0 2063.8 L2076.0 2063.8 L2082.0 2063.8 L2088.1 2063.8 L2094.1 2063.8 L2100.1 2063.8 L2106.1 2063.7 L2112.1 2063.7 L2118.1 2063.6 L2124.2 2063.6 L2130.2 2063.5 L2136.2 2063.5 L2142.2 2063.4 L2148.2 2063.3 L2154.2 2063.3 L2160.2 2063.2 L2166.2 2063.1 L2172.2 2062.9 L2178.2 2062.8 L2184.3 2062.7 L2190.3 2062.6 L2196.3 2062.4 L2202.3 2062.2 L2208.3 2062.1 L2214.3 2061.9 L2220.3 2061.7 L2226.3 2061.5 L2232.3 2061.2 L2238.3 2061.0 L2244.3 2060.7 L2250.2 2060.5 L2256.2 2060.2 L2262.2 2059.9 L2268.2 2059.6 L2274.2 2059.3 L2280.2 2058.9 L2286.2 2058.6 L2292.2 2058.2 L2298.1 2057.8 L2304.1 2057.4 L2310.1 2057.0 L2316.1 2056.5 L2322.1 2056.1 L2328.0 2055.6 L2334.0 2055.1 L2340.0 2054.6 L2345.9 2054.0 L2351.9 2053.5 L2357.9 2052.9 L2363.8 2052.3 L2369.8 2051.7 L2375.7 2051.1 L2381.7 2050.4 L2387.6 2049.7 L2393.6 2049.0 L2399.5 2048.3 L2405.5 2047.5 L2411.4 2046.7 L2417.4 2045.9 L2423.3 2045.1 L2429.3 2044.3 L2435.2 2043.4 L2441.1 2042.5 L2447.0 2041.6 L2453.0 2040.6 L2458.9 2039.6 L2464.8 2038.6 L2470.7 2037.6 L2476.7 2036.6 L2482.6 2035.5 L2488.5 2034.4 L2494.4 2033.2 L2500.3 2032.0 L2506.2 2030.8 L2512.1 2029.6 L2518.0 2028.4 L2523.9 2027.1 L2529.8 2025.7 L2535.7 2024.4 L2541.5 2023.0 L2547.4 2021.6 L2553.3 2020.1 L2559.2 2018.7 L2565.0 2017.2 L2570.9 2015.6 L2576.8 2014.0 L2582.6 2012.4 L2588.6 2013.0 L2594.8 2010.2 L2600.9 2007.3 L2607.1 2004.5 L2613.2 2001.6 L2619.4 1998.8 L2623.7 1992.8 L2628.1 1986.8 L2632.4 1980.9 L2636.7 1974.9 L2639.8 1969.1 L2642.9 1963.4 L2646.1 1957.6 L2649.2 1951.9 L2652.2 1946.1 L2654.1 1939.8 L2656.0 1933.5 L2657.9 1927.3 L2659.7 1921.0 L2661.6 1914.7 L2663.4 1908.9 L2664.3 1903.0 L2665.2 1897.0 L2666.1 1891.1 L2667.0 1885.1 L2667.9 1879.2 L2668.8 1873.2 L2669.6 1867.3 L2670.5 1861.3 L2671.3 1855.4 L2672.1 1849.4 L2672.9 1843.4 L2673.7 1837.5 L2674.5 1831.5 L2675.3 1825.6 L2676.0 1819.6 L2676.8 1813.6 L2677.5 1807.7 L2678.2 1801.7 L2678.9 1795.7 L2679.7 1789.8 L2680.3 1783.8 L2681.0 1777.8 L2681.7 1771.9 L2682.4 1765.9 L2683.0 1759.9 L2683.7 1753.9 L2684.3 1748.0 L2684.9 1742.0 L2685.5 1736.0 L2686.1 1730.0 L2686.7 1724.1 L2687.3 1718.1 L2687.9 1712.1 L2688.4 1706.1 L2689.0 1700.1 L2689.5 1694.2 L2690.1 1688.2 L2690.6 1682.2 L2691.1 1676.2 L2691.6 1670.2 L2692.1 1664.2 L2692.6 1658.3 L2693.1 1652.3 L2693.5 1646.3 L2694.0 1640.3 L2694.5 1634.3 L2694.9 1628.3 L2695.4 1622.3 L2695.8 1616.4 L2696.2 1610.4 L2696.6 1604.4 L2697.0 1598.4 L2697.4 1592.4 L2697.8 1586.4 L2698.2 1580.4 L2698.6 1574.4 L2699.0 1568.4 L2699.3 1562.4 L2699.7 1556.4 L2700.0 1550.4 L2700.4 1544.4 L2700.7 1538.4 L2701.1 1532.4 L2701.4 1526.4 L2701.7 1520.5 L2702.0 1514.5 L2702.3 1508.5 L2702.6 1502.5 L2702.9 1496.5 L2703.2 1490.5 L2703.5 1484.5 L2703.7 1478.5 L2704.0 1472.5 L2704.3 1466.5 L2704.5 1460.5 L2704.8 1454.5 L2705.0 1448.5 L2705.3 1442.5 L2705.5 1436.4 L2705.7 1430.4 L2706.0 1424.4 L2706.2 1418.4 L2706.4 1412.4 L2706.6 1406.4 L2706.8 1400.4 L2707.0 1394.4 L2707.2 1388.4 L2707.4 1382.4 L2707.6 1376.4 L2707.8 1370.4 L2708.0 1364.4 L2708.2 1358.4 L2708.3 1352.4 L2708.5 1346.4 L2708.7 1340.4 L2708.8 1334.4 L2709.0 1328.4 L2709.1 1322.4 L2709.3 1316.4 L2709.4 1310.3 L2709.6 1304.3 L2709.7 1298.3 L2709.9 1292.3 L2710.0 1286.3 L2710.1 1280.3 L2710.3 1274.3 L2710.4 1268.3 L2710.5 1262.3 L2710.6 1256.3 L2710.7 1250.3 L2710.8 1244.3 L2710.9 1238.2 L2711.0 1232.2 L2711.1 1226.2 L2711.2 1220.2 L2711.3 1214.2 L2711.4 1208.2 L2711.5 1202.2 L2711.6 1196.2 L2711.7 1190.2 L2711.8 1184.2 L2711.8 1178.2 L2711.9 1172.1 L2712.0 1166.1 L2712.0 1160.1 L2712.1 1154.1 L2712.2 1148.1 L2712.2 1142.1 L2712.3 1136.1 L2712.3 1130.1 L2712.4 1124.1 L2712.4 1118.0 L2712.5 1112.0 L2712.5 1106.0 L2712.6 1100.0 L2712.6 1094.0 L2712.6 1088.0 L2712.7 1082.0 L2712.7 1076.0 L2712.7 1069.9 L2712.8 1063.9 L2712.8 1057.9 L2712.8 1051.9 L2712.8 1045.9 L2712.9 1039.9 L2712.9 1033.9 L2712.9 1027.9 L2712.9 1021.9 L2712.9 1015.8 L2712.9 1009.8 L2712.9 1003.8 L2712.9 997.8 L2712.9 991.8 L2712.9 985.8 L2712.9 979.8 L2712.9 973.7 L2712.9 967.7 L2712.9 961.7 L2712.9 955.7 L2712.9 949.7 L2712.9 943.7 L2712.9 937.7 L2712.9 931.7 L2712.9 925.6 L2712.9 919.6 L2712.9 913.6 L2712.9 907.6 L2712.8 901.6 L2712.8 895.6 L2712.8 889.6 L2712.8 883.5 L2712.8 877.5 L2712.8 871.5 L2712.7 865.5 L2712.7 859.5 L2712.7 853.5 L2712.7 847.5 L2712.6 841.5 L2712.6 835.4 L2712.6 829.4 L2712.6 823.4 L2712.5 817.4 L2712.5 811.4 L2712.5 805.4 L2712.5 799.4 L2712.4 793.4 L2712.4 787.3 L2712.4 781.3 L2712.3 775.3 L2712.3 769.3 L2712.3 763.3 L2712.2 757.3 L2712.2 751.3 L2712.2 745.2 L2712.2 739.2 L2712.1 733.2 L2712.1 727.2 L2712.1 721.2 L2712.0 715.2 L2712.0 709.2 L2712.0 703.2 L2711.9 697.1 L2711.9 691.1 L2711.9 685.1 L2711.9 679.1 L2711.8 673.1 L2711.8 667.1 L2711.8 661.1 L2711.7 655.1 L2711.7 649.1 L2711.7 643.0 L2711.7 637.0 L2711.6 631.0 L2711.6 625.0 L2711.6 619.0 L2711.6 613.0 L2711.5 607.0 L2711.5 601.0 L2711.5 595.0 L2711.5 588.9 L2711.5 582.9 L2711.5 576.9 L2711.4 570.9 L2711.4 564.9 L2711.4 558.9 L2711.4 552.9 L2711.4 546.9 L2711.4 540.9 L2711.4 534.9 L2711.4 528.8 L2711.3 522.8 L2711.3 516.8 L2711.3 510.8 L2711.3 504.8 L2711.3 498.8 L2711.3 492.8 L2711.3 486.8 L2711.3 480.8 L2711.3 474.8 L2711.4 468.8 L2711.4 462.8 L2711.4 456.7 L2711.4 450.7 L2711.4 444.7 L2711.4 438.7 L2711.4 432.7 L2711.5 426.7 L2711.5 420.7 L2711.5 414.7 L2711.5 408.7 L2711.6 402.7 L2711.6 396.7 L2711.6 390.7 L2711.7 384.7 L2711.7 378.7 L2711.7 372.7 L2711.8 366.7 L2711.8 360.7 L2711.9 354.6 L2711.9 348.6 L2712.0 342.6 L2712.0 336.6 L2712.1 330.6 L2712.1 324.6 L2712.2 318.6 L2712.3 312.6 L2712.3 306.6 L2712.4 300.6 L2712.5 294.6 L2712.6 288.6 L2712.6 282.6 L2712.7 276.6 L2712.8 270.6 L2712.9 264.6 L2713.0 258.6 L2713.1 252.6 L2713.2 246.6 L2713.3 240.6 L2713.4 234.6 L2713.5 228.6 L2713.6 222.6 L2712.6 216.5" fill="none" stroke="#bd1f01" stroke-width="17.0" stroke-dasharray="16.768 16.568" stroke-dashoffset="-11.30"/>
<path d="M741.0 216.5 L741.6 227.8" stroke="#bd1f01" stroke-width="17.0"/>
<path d="M1013.8 216.5 L1014.0 222.5 L1014.2 228.5 L1014.5 234.5 L1014.7 240.5 L1015.0 246.5 L1015.3 252.5 L1015.5 258.5 L1015.8 264.5 L1016.1 270.5 L1016.4 276.5 L1016.7 282.5 L1017.0 288.5 L1017.3 294.5 L1017.6 300.5 L1017.9 306.5 L1018.2 312.5 L1018.6 318.5 L1018.9 324.5 L1019.2 330.5 L1019.6 336.5 L1019.9 342.5 L1020.3 348.5 L1020.6 354.5 L1021.0 360.5 L1021.4 366.5 L1021.7 372.5 L1022.1 378.5 L1022.5 384.5 L1022.9 390.5 L1023.3 396.5 L1023.7 402.5 L1024.1 408.5 L1024.5 414.5 L1024.9 420.4 L1025.3 426.4 L1025.8 432.4 L1026.2 438.4 L1026.6 444.4 L1027.1 450.4 L1027.5 456.4 L1028.0 462.4 L1028.4 468.4 L1028.9 474.4 L1029.4 480.4 L1029.9 486.3 L1030.3 492.3 L1030.8 498.3 L1031.3 504.3 L1031.8 510.3 L1032.4 516.3 L1032.9 522.3 L1033.4 528.2 L1033.9 534.2 L1034.5 540.2 L1035.0 546.2 L1035.5 552.2 L1036.1 558.2 L1036.7 564.1 L1037.2 570.1 L1037.8 576.1 L1038.4 582.1 L1039.0 588.1 L1039.6 594.0 L1040.2 600.0 L1040.8 606.0 L1041.4 612.0 L1042.0 618.0 L1042.6 623.9 L1043.2 629.9 L1043.9 635.9 L1044.5 641.9 L1045.2 647.8 L1045.8 653.8 L1046.5 659.8 L1047.2 665.8 L1047.9 671.7 L1048.5 677.7 L1049.2 683.7 L1049.9 689.6 L1050.6 695.6 L1051.4 701.6 L1052.1 707.5 L1052.8 713.5 L1053.5 719.5 L1054.3 725.4 L1055.0 731.4 L1055.8 737.4 L1056.6 743.3 L1057.4 749.3 L1058.1 755.2 L1058.9 761.2 L1059.8 767.2 L1060.6 773.1 L1061.4 779.1 L1062.3 785.0 L1063.1 791.0 L1064.0 796.9 L1064.9 802.8 L1065.8 808.8 L1066.7 814.7 L1067.7 820.6 L1068.6 826.6 L1069.6 832.5 L1070.6 838.4 L1071.6 844.3 L1072.6 850.3 L1073.6 856.2 L1074.7 862.1 L1075.8 868.0 L1076.8 873.9 L1078.0 879.8 L1079.1 885.7 L1080.2 891.6 L1081.4 897.5 L1082.6 903.3 L1083.8 909.2 L1085.0 915.1 L1086.3 920.9 L1087.6 926.8 L1088.9 932.7 L1090.2 938.5 L1091.5 944.4 L1092.9 950.2 L1094.3 956.0 L1095.7 961.9 L1097.2 967.7 L1098.7 973.5 L1100.2 979.3 L1101.7 985.1 L1103.2 990.9 L1104.8 996.7 L1106.4 1002.5 L1108.1 1008.3 L1109.7 1014.1 L1111.4 1019.8 L1113.1 1025.6 L1114.9 1031.3 L1116.7 1037.1 L1118.5 1042.8 L1120.4 1048.5 L1122.2 1054.2 L1124.2 1060.0 L1126.1 1065.6 L1128.1 1071.3 L1130.1 1077.0 L1132.2 1082.6 L1134.3 1088.3 L1136.4 1093.9 L1138.6 1099.5 L1140.9 1105.1 L1143.1 1110.7 L1145.4 1116.2 L1147.8 1121.8 L1150.2 1127.3 L1152.6 1132.8 L1155.1 1138.3 L1157.7 1143.7 L1160.3 1149.1 L1162.9 1154.5 L1165.6 1159.9 L1168.3 1165.3 L1171.1 1170.6 L1174.0 1175.9 L1176.9 1181.2 L1179.8 1186.5 L1182.8 1191.7 L1185.9 1196.9 L1189.0 1202.1 L1192.2 1207.2 L1195.4 1212.3 L1198.7 1217.4 L1202.1 1222.4 L1205.5 1227.4 L1208.9 1232.4 L1212.5 1237.3 L1216.0 1242.2 L1219.7 1247.0 L1223.3 1251.8 L1227.1 1256.6 L1230.9 1261.3 L1234.7 1266.0 L1238.6 1270.6 L1242.6 1275.2 L1246.6 1279.7 L1250.6 1284.2 L1254.8 1288.6 L1258.9 1292.9 L1263.1 1297.2 L1267.4 1301.5 L1271.7 1305.7 L1276.1 1309.8 L1280.5 1313.8 L1284.9 1317.8 L1289.4 1321.8 L1294.0 1325.6 L1298.6 1329.4 L1303.2 1333.2 L1307.9 1336.8 L1312.6 1340.4 L1317.4 1343.9 L1322.2 1347.4 L1327.1 1350.8 L1332.0 1354.1 L1337.0 1357.4 L1341.9 1360.6 L1347.0 1363.7 L1352.0 1366.8 L1357.1 1369.8 L1362.3 1372.8 L1367.5 1375.6 L1372.7 1378.5 L1377.9 1381.2 L1383.2 1384.0 L1388.5 1386.6 L1393.9 1389.2 L1399.2 1391.8 L1404.6 1394.2 L1410.1 1396.7 L1415.6 1399.1 L1421.1 1401.4 L1426.6 1403.7 L1432.1 1405.9 L1437.7 1408.1 L1443.3 1410.2 L1448.9 1412.3 L1454.6 1414.3 L1460.3 1416.3 L1466.0 1418.2 L1471.7 1420.1 L1477.4 1421.9 L1483.2 1423.7 L1489.0 1425.4 L1494.8 1427.1 L1500.6 1428.8 L1506.4 1430.4 L1512.3 1432.0 L1518.1 1433.5 L1524.0 1435.0 L1529.9 1436.4 L1535.8 1437.9 L1541.7 1439.2 L1547.7 1440.6 L1553.6 1441.9 L1559.6 1443.1 L1565.5 1444.4 L1571.5 1445.5 L1577.5 1446.7 L1583.5 1447.8 L1589.5 1448.9 L1595.5 1450.0 L1601.5 1451.0 L1607.5 1452.0 L1613.5 1453.0 L1619.5 1453.9 L1625.5 1454.8 L1631.5 1455.7 L1637.5 1456.6 L1643.5 1457.4 L1649.5 1458.2 L1655.5 1459.0 L1661.5 1459.7 L1667.5 1460.5 L1673.5 1461.2 L1679.5 1461.9 L1685.5 1462.5 L1691.5 1463.2 L1697.5 1463.8 L1703.4 1464.4 L1709.4 1465.0 L1715.4 1465.5 L1721.3 1466.0 L1727.3 1466.5 L1733.2 1467.0 L1739.2 1467.5 L1745.1 1467.9 L1751.1 1468.3 L1757.0 1468.7 L1763.0 1469.1 L1768.9 1469.4 L1774.8 1469.8 L1780.8 1470.1 L1786.7 1470.3 L1792.6 1470.6 L1798.6 1470.8 L1804.5 1471.0 L1810.4 1471.2 L1816.3 1471.4 L1822.3 1471.5 L1828.2 1471.6 L1834.1 1471.7 L1840.1 1471.7 L1846.0 1471.8 L1851.9 1471.8 L1857.9 1471.8 L1863.8 1471.8 L1869.7 1471.7 L1875.7 1471.6 L1881.6 1471.5 L1887.5 1471.4 L1893.5 1471.2 L1899.4 1471.0 L1905.4 1470.8 L1911.4 1470.6 L1917.3 1470.3 L1923.3 1470.1 L1929.2 1469.8 L1935.2 1469.4 L1941.2 1469.1 L1947.2 1468.7 L1953.2 1468.3 L1959.2 1467.9 L1965.2 1467.4 L1971.2 1466.9 L1977.2 1466.4 L1983.2 1465.9 L1989.2 1465.3 L1995.2 1464.7 L2001.3 1464.1 L2007.3 1463.5 L2013.4 1462.8 L2019.4 1462.2 L2025.5 1461.4 L2031.5 1460.7 L2037.6 1459.9 L2043.7 1459.1 L2049.7 1458.3 L2055.8 1457.4 L2061.8 1456.5 L2067.9 1455.6 L2074.0 1454.6 L2080.0 1453.6 L2086.0 1452.5 L2092.1 1451.4 L2098.1 1450.3 L2104.1 1449.1 L2110.1 1447.9 L2116.1 1446.7 L2122.1 1445.4 L2128.1 1444.0 L2134.0 1442.6 L2139.9 1441.2 L2145.8 1439.7 L2151.7 1438.2 L2157.6 1436.6 L2163.5 1435.0 L2169.3 1433.3 L2175.1 1431.6 L2180.9 1429.8 L2186.6 1428.0 L2192.4 1426.1 L2198.1 1424.2 L2203.7 1422.2 L2209.4 1420.1 L2215.0 1418.0 L2220.6 1415.8 L2226.1 1413.6 L2231.6 1411.3 L2237.1 1408.9 L2242.6 1406.5 L2248.0 1404.0 L2253.3 1401.5 L2258.7 1398.9 L2263.9 1396.2 L2269.2 1393.4 L2274.4 1390.6 L2279.5 1387.7 L2284.6 1384.8 L2289.7 1381.8 L2294.7 1378.7 L2299.7 1375.5 L2304.6 1372.2 L2309.5 1368.9 L2314.3 1365.5 L2319.0 1362.0 L2323.7 1358.5 L2328.4 1354.8 L2333.0 1351.1 L2337.5 1347.3 L2342.0 1343.5 L2346.4 1339.5 L2350.8 1335.5 L2355.1 1331.3 L2359.3 1327.1 L2363.5 1322.9 L2367.6 1318.5 L2371.6 1314.1 L2375.6 1309.6 L2379.5 1305.1 L2383.3 1300.4 L2387.1 1295.8 L2390.8 1291.0 L2394.5 1286.2 L2398.0 1281.4 L2401.5 1276.4 L2404.9 1271.5 L2408.3 1266.4 L2411.6 1261.4 L2414.8 1256.3 L2417.9 1251.1 L2421.0 1245.9 L2424.0 1240.7 L2426.9 1235.4 L2429.8 1230.1 L2432.6 1224.7 L2435.3 1219.3 L2438.0 1213.9 L2440.6 1208.5 L2443.1 1203.1 L2445.6 1197.6 L2448.0 1192.1 L2450.4 1186.6 L2452.7 1181.1 L2455.0 1175.5 L2457.2 1169.9 L2459.3 1164.3 L2461.4 1158.7 L2463.5 1153.1 L2465.5 1147.5 L2467.4 1141.8 L2469.3 1136.1 L2471.2 1130.4 L2473.0 1124.7 L2474.7 1119.0 L2476.4 1113.2 L2478.1 1107.5 L2479.7 1101.7 L2481.3 1095.9 L2482.8 1090.1 L2484.3 1084.3 L2485.8 1078.5 L2487.2 1072.7 L2488.6 1066.8 L2489.9 1060.9 L2491.2 1055.1 L2492.5 1049.2 L2493.7 1043.3 L2494.9 1037.4 L2496.1 1031.5 L2497.2 1025.6 L2498.3 1019.6 L2499.4 1013.7 L2500.4 1007.8 L2501.5 1001.8 L2502.5 995.9 L2503.4 989.9 L2504.4 983.9 L2505.3 978.0 L2506.2 972.0 L2507.1 966.0 L2507.9 960.0 L2508.7 954.0 L2509.6 948.0 L2510.3 942.0 L2511.1 936.0 L2511.9 930.0 L2512.6 924.0 L2513.3 918.0 L2514.1 912.0 L2514.8 906.0 L2515.5 900.0 L2516.1 894.0 L2516.8 888.0 L2517.5 882.0 L2518.1 876.0 L2518.8 870.0 L2519.4 864.0 L2520.0 858.0 L2520.6 852.0 L2521.2 846.0 L2521.8 840.0 L2522.4 834.0 L2523.0 828.0 L2523.6 822.1 L2524.2 816.1 L2524.7 810.1 L2525.3 804.1 L2525.8 798.1 L2526.3 792.1 L2526.9 786.2 L2527.4 780.2 L2527.9 774.2 L2528.4 768.2 L2528.9 762.2 L2529.4 756.3 L2529.9 750.3 L2530.3 744.3 L2530.8 738.3 L2531.3 732.4 L2531.7 726.4 L2532.2 720.4 L2532.6 714.4 L2533.0 708.5 L2533.5 702.5 L2533.9 696.5 L2534.3 690.6 L2534.7 684.6 L2535.1 678.6 L2535.5 672.6 L2535.9 666.7 L2536.2 660.7 L2536.6 654.7 L2537.0 648.8 L2537.3 642.8 L2537.7 636.8 L2538.0 630.8 L2538.3 624.9 L2538.7 618.9 L2539.0 612.9 L2539.3 607.0 L2539.6 601.0 L2539.9 595.0 L2540.2 589.1 L2540.5 583.1 L2540.8 577.1 L2541.0 571.1 L2541.3 565.2 L2541.6 559.2 L2541.8 553.2 L2542.1 547.2 L2542.3 541.3 L2542.6 535.3 L2542.8 529.3 L2543.1 523.3 L2543.3 517.3 L2543.5 511.4 L2543.7 505.4 L2543.9 499.4 L2544.1 493.4 L2544.3 487.4 L2544.5 481.4 L2544.7 475.5 L2544.9 469.5 L2545.0 463.5 L2545.2 457.5 L2545.4 451.5 L2545.5 445.5 L2545.7 439.5 L2545.8 433.5 L2546.0 427.5 L2546.1 421.5 L2546.3 415.5 L2546.4 409.5 L2546.5 403.5 L2546.6 397.5 L2546.7 391.5 L2546.9 385.5 L2547.0 379.5 L2547.1 373.5 L2547.2 367.5 L2547.3 361.4 L2547.3 355.4 L2547.4 349.4 L2547.5 343.4 L2547.6 337.3 L2547.7 331.3 L2547.7 325.3 L2547.8 319.3 L2547.8 313.2 L2547.9 307.2 L2547.9 301.2 L2548.0 295.1 L2548.0 289.1 L2548.1 283.0 L2548.1 277.0 L2548.1 270.9 L2548.2 264.9 L2548.2 258.8 L2548.2 252.8 L2548.2 246.7 L2548.2 240.6 L2548.3 234.6 L2548.3 228.5 L2548.3 222.4 L2548.5 216.5" fill="none" stroke="#bd1f01" stroke-width="17.0" stroke-dasharray="16.768 16.568" stroke-dashoffset="-5.40"/>
<path d="M1013.8 216.5 L1014.1 221.9" stroke="#bd1f01" stroke-width="17.0"/>
<path d="M864.7 216.5 L864.6 222.6 L864.8 228.6 L865.0 234.5 L865.1 240.5 L865.3 246.5 L865.5 252.5 L865.7 258.5 L865.8 264.4 L866.0 270.4 L866.1 276.4 L866.3 282.4 L866.5 288.4 L866.6 294.4 L866.8 300.4 L866.9 306.3 L867.1 312.3 L867.2 318.3 L867.4 324.3 L867.5 330.3 L867.7 336.3 L867.8 342.3 L867.9 348.3 L868.1 354.3 L868.2 360.3 L868.4 366.3 L868.5 372.3 L868.6 378.3 L868.8 384.3 L868.9 390.3 L869.1 396.3 L869.2 402.3 L869.3 408.3 L869.5 414.3 L869.6 420.3 L869.8 426.4 L869.9 432.4 L870.0 438.4 L870.2 444.4 L870.3 450.4 L870.4 456.4 L870.6 462.4 L870.7 468.4 L870.9 474.4 L871.0 480.4 L871.2 486.5 L871.3 492.5 L871.4 498.5 L871.6 504.5 L871.7 510.5 L871.9 516.5 L872.0 522.5 L872.2 528.6 L872.4 534.6 L872.5 540.6 L872.7 546.6 L872.8 552.6 L873.0 558.6 L873.1 564.7 L873.3 570.7 L873.5 576.7 L873.7 582.7 L873.8 588.7 L874.0 594.7 L874.2 600.8 L874.4 606.8 L874.5 612.8 L874.7 618.8 L874.9 624.8 L875.1 630.9 L875.3 636.9 L875.5 642.9 L875.7 648.9 L875.9 654.9 L876.1 660.9 L876.3 667.0 L876.5 673.0 L876.7 679.0 L877.0 685.0 L877.2 691.0 L877.4 697.0 L877.6 703.1 L877.9 709.1 L878.1 715.1 L878.4 721.1 L878.6 727.1 L878.9 733.1 L879.1 739.2 L879.4 745.2 L879.7 751.2 L879.9 757.2 L880.2 763.2 L880.5 769.2 L880.8 775.2 L881.1 781.2 L881.4 787.3 L881.7 793.3 L882.0 799.3 L882.3 805.3 L882.6 811.3 L882.9 817.3 L883.2 823.3 L883.6 829.3 L883.9 835.3 L884.3 841.3 L884.6 847.3 L885.0 853.3 L885.3 859.3 L885.7 865.3 L886.1 871.3 L886.4 877.3 L886.8 883.3 L887.2 889.3 L887.6 895.3 L888.0 901.3 L888.4 907.3 L888.9 913.3 L889.3 919.3 L889.7 925.3 L890.2 931.3 L890.6 937.3 L891.1 943.3 L891.5 949.3 L892.0 955.3 L892.5 961.3 L893.0 967.2 L893.5 973.2 L894.0 979.2 L894.5 985.2 L895.0 991.2 L895.5 997.2 L896.0 1003.1 L896.6 1009.1 L897.1 1015.1 L897.7 1021.1 L898.3 1027.0 L898.8 1033.0 L899.4 1039.0 L900.0 1044.9 L900.6 1050.9 L901.2 1056.9 L901.8 1062.8 L902.5 1068.8 L903.1 1074.8 L903.7 1080.7 L904.4 1086.7 L905.1 1092.7 L905.7 1098.6 L906.4 1104.6 L907.1 1110.5 L907.8 1116.5 L908.5 1122.4 L909.2 1128.4 L910.0 1134.3 L910.7 1140.3 L911.4 1146.2 L912.2 1152.1 L913.0 1158.1 L913.8 1164.0 L914.5 1170.0 L915.3 1175.9 L916.2 1181.8 L917.0 1187.8 L917.8 1193.7 L918.7 1199.6 L919.5 1205.5 L920.4 1211.5 L921.3 1217.4 L922.2 1223.3 L923.1 1229.2 L924.0 1235.1 L925.0 1241.0 L926.0 1246.9 L927.0 1252.9 L928.0 1258.8 L929.0 1264.7 L930.1 1270.5 L931.1 1276.4 L932.2 1282.3 L933.4 1288.2 L934.5 1294.1 L935.7 1300.0 L936.9 1305.9 L938.1 1311.7 L939.4 1317.6 L940.7 1323.5 L942.0 1329.3 L943.4 1335.2 L944.7 1341.0 L946.2 1346.9 L947.6 1352.7 L949.1 1358.5 L950.6 1364.4 L952.2 1370.2 L953.7 1376.0 L955.4 1381.8 L957.0 1387.7 L958.7 1393.5 L960.5 1399.3 L962.2 1405.1 L964.1 1410.9 L965.9 1416.6 L967.8 1422.4 L969.8 1428.2 L971.8 1433.9 L973.8 1439.7 L975.9 1445.4 L978.0 1451.1 L980.2 1456.8 L982.4 1462.4 L984.7 1468.1 L987.1 1473.7 L989.4 1479.3 L991.9 1484.8 L994.3 1490.4 L996.9 1495.9 L999.5 1501.4 L1002.1 1506.8 L1004.8 1512.2 L1007.6 1517.6 L1010.4 1522.9 L1013.3 1528.2 L1016.2 1533.5 L1019.2 1538.7 L1022.2 1543.8 L1025.3 1549.0 L1028.5 1554.0 L1031.8 1559.1 L1035.1 1564.0 L1038.4 1568.9 L1041.9 1573.8 L1045.4 1578.6 L1048.9 1583.4 L1052.5 1588.1 L1056.3 1592.7 L1060.0 1597.3 L1063.9 1601.8 L1067.8 1606.3 L1071.8 1610.7 L1075.8 1615.0 L1080.0 1619.2 L1084.2 1623.4 L1088.4 1627.5 L1092.8 1631.6 L1097.2 1635.5 L1101.7 1639.4 L1106.3 1643.2 L1111.0 1647.0 L1115.7 1650.6 L1120.5 1654.2 L1125.3 1657.8 L1130.2 1661.2 L1135.1 1664.6 L1140.1 1667.9 L1145.2 1671.2 L1150.3 1674.4 L1155.5 1677.5 L1160.7 1680.5 L1165.9 1683.5 L1171.2 1686.5 L1176.5 1689.3 L1181.8 1692.1 L1187.2 1694.8 L1192.6 1697.5 L1198.1 1700.1 L1203.5 1702.7 L1209.0 1705.2 L1214.5 1707.6 L1220.0 1710.0 L1225.6 1712.3 L1231.1 1714.6 L1236.7 1716.8 L1242.3 1719.0 L1247.9 1721.1 L1253.6 1723.1 L1259.2 1725.1 L1264.9 1727.1 L1270.6 1729.0 L1276.3 1730.8 L1282.0 1732.7 L1287.8 1734.4 L1293.5 1736.1 L1299.3 1737.8 L1305.1 1739.4 L1310.8 1741.0 L1316.6 1742.6 L1322.5 1744.1 L1328.3 1745.6 L1334.1 1747.0 L1340.0 1748.4 L1345.8 1749.7 L1351.7 1751.0 L1357.6 1752.3 L1363.5 1753.6 L1369.4 1754.8 L1375.3 1756.0 L1381.2 1757.1 L1387.1 1758.2 L1393.0 1759.3 L1399.0 1760.4 L1404.9 1761.4 L1410.9 1762.4 L1416.8 1763.4 L1422.8 1764.4 L1428.7 1765.3 L1434.7 1766.2 L1440.6 1767.1 L1446.6 1768.0 L1452.6 1768.8 L1458.5 1769.6 L1464.5 1770.4 L1470.5 1771.2 L1476.4 1772.0 L1482.4 1772.8 L1488.4 1773.5 L1494.3 1774.2 L1500.3 1774.9 L1506.3 1775.6 L1512.3 1776.3 L1518.2 1776.9 L1524.2 1777.6 L1530.2 1778.2 L1536.2 1778.8 L1542.1 1779.4 L1548.1 1780.0 L1554.1 1780.5 L1560.1 1781.1 L1566.0 1781.6 L1572.0 1782.1 L1578.0 1782.6 L1584.0 1783.1 L1590.0 1783.6 L1595.9 1784.0 L1601.9 1784.5 L1607.9 1784.9 L1613.9 1785.3 L1619.9 1785.8 L1625.9 1786.2 L1631.8 1786.5 L1637.8 1786.9 L1643.8 1787.3 L1649.8 1787.6 L1655.8 1787.9 L1661.8 1788.3 L1667.8 1788.6 L1673.8 1788.9 L1679.8 1789.2 L1685.7 1789.4 L1691.7 1789.7 L1697.7 1790.0 L1703.7 1790.2 L1709.7 1790.5 L1715.7 1790.7 L1721.7 1790.9 L1727.7 1791.1 L1733.7 1791.3 L1739.7 1791.5 L1745.7 1791.7 L1751.7 1791.9 L1757.7 1792.0 L1763.7 1792.2 L1769.7 1792.3 L1775.7 1792.5 L1781.7 1792.6 L1787.7 1792.7 L1793.7 1792.8 L1799.7 1793.0 L1805.7 1793.1 L1811.7 1793.2 L1817.7 1793.2 L1823.7 1793.3 L1829.7 1793.4 L1835.7 1793.5 L1841.8 1793.6 L1847.8 1793.6 L1853.8 1793.7 L1859.8 1793.7 L1865.8 1793.8 L1871.8 1793.8 L1877.8 1793.8 L1883.8 1793.8 L1889.8 1793.8 L1895.9 1793.8 L1901.9 1793.8 L1907.9 1793.8 L1913.9 1793.8 L1919.9 1793.7 L1925.9 1793.7 L1931.9 1793.6 L1937.9 1793.6 L1944.0 1793.5 L1950.0 1793.4 L1956.0 1793.3 L1962.0 1793.2 L1968.0 1793.1 L1974.0 1793.0 L1980.0 1792.8 L1986.0 1792.7 L1992.0 1792.5 L1998.0 1792.3 L2004.1 1792.1 L2010.1 1791.9 L2016.1 1791.7 L2022.1 1791.5 L2028.1 1791.2 L2034.1 1791.0 L2040.1 1790.7 L2046.1 1790.4 L2052.1 1790.1 L2058.1 1789.8 L2064.1 1789.5 L2070.1 1789.2 L2076.1 1788.8 L2082.1 1788.4 L2088.1 1788.0 L2094.1 1787.6 L2100.1 1787.2 L2106.0 1786.8 L2112.0 1786.3 L2118.0 1785.8 L2124.0 1785.4 L2130.0 1784.9 L2136.0 1784.3 L2142.0 1783.8 L2147.9 1783.2 L2153.9 1782.7 L2159.9 1782.1 L2165.9 1781.5 L2171.8 1780.8 L2177.8 1780.2 L2183.8 1779.5 L2189.7 1778.8 L2195.7 1778.1 L2201.7 1777.4 L2207.6 1776.6 L2213.6 1775.9 L2219.5 1775.1 L2225.5 1774.3 L2231.4 1773.4 L2237.4 1772.6 L2243.3 1771.7 L2249.3 1770.8 L2255.2 1769.9 L2261.2 1768.9 L2267.1 1768.0 L2273.0 1767.0 L2278.9 1766.0 L2284.9 1765.0 L2290.8 1763.9 L2296.7 1762.8 L2302.6 1761.7 L2308.5 1760.6 L2314.4 1759.4 L2320.3 1758.2 L2326.2 1756.9 L2332.1 1755.6 L2337.9 1754.2 L2343.8 1752.8 L2349.6 1751.3 L2355.4 1749.8 L2361.2 1748.2 L2366.9 1746.5 L2372.7 1744.7 L2378.4 1742.8 L2384.0 1740.9 L2389.7 1738.9 L2395.3 1736.7 L2400.9 1734.5 L2406.4 1732.2 L2411.9 1729.7 L2417.4 1727.2 L2422.8 1724.5 L2428.2 1721.7 L2433.5 1718.8 L2438.8 1715.8 L2444.1 1712.7 L2449.3 1709.4 L2454.4 1706.1 L2459.5 1702.7 L2464.5 1699.2 L2469.4 1695.6 L2474.3 1691.9 L2479.1 1688.1 L2483.8 1684.2 L2488.5 1680.2 L2493.1 1676.2 L2497.6 1672.1 L2502.0 1667.9 L2506.3 1663.7 L2510.5 1659.3 L2514.7 1655.0 L2518.7 1650.5 L2522.6 1646.0 L2526.5 1641.5 L2530.2 1636.9 L2533.9 1632.2 L2537.4 1627.5 L2540.8 1622.7 L2544.2 1617.9 L2547.4 1613.0 L2550.6 1608.1 L2553.7 1603.2 L2556.7 1598.2 L2559.6 1593.1 L2562.4 1588.0 L2565.1 1582.9 L2567.7 1577.7 L2570.3 1572.5 L2572.8 1567.2 L2575.2 1561.9 L2577.5 1556.6 L2579.8 1551.2 L2581.9 1545.8 L2584.1 1540.3 L2586.1 1534.8 L2588.1 1529.3 L2590.0 1523.8 L2591.8 1518.2 L2593.6 1512.6 L2595.3 1506.9 L2596.9 1501.3 L2598.5 1495.5 L2600.0 1489.8 L2601.5 1484.1 L2602.9 1478.3 L2604.3 1472.5 L2605.6 1466.6 L2606.9 1460.8 L2608.1 1454.9 L2609.3 1449.0 L2610.4 1443.1 L2611.5 1437.2 L2612.5 1431.2 L2613.5 1425.3 L2614.5 1419.3 L2615.4 1413.3 L2616.3 1407.3 L2617.1 1401.2 L2618.0 1395.2 L2618.7 1389.2 L2619.5 1383.1 L2620.2 1377.0 L2620.9 1370.9 L2621.6 1364.9 L2622.3 1358.8 L2622.9 1352.7 L2623.5 1346.6 L2624.1 1340.5 L2624.7 1334.4 L2625.2 1328.3 L2625.8 1322.1 L2626.3 1316.0 L2626.8 1309.9 L2627.3 1303.8 L2627.8 1297.7 L2628.3 1291.6 L2628.8 1285.5 L2629.3 1279.4 L2629.8 1273.3 L2630.2 1267.3 L2630.7 1261.2 L2631.1 1255.1 L2631.6 1249.0 L2632.0 1242.9 L2632.5 1236.9 L2632.9 1230.8 L2633.3 1224.7 L2633.7 1218.7 L2634.1 1212.6 L2634.5 1206.6 L2634.9 1200.5 L2635.3 1194.5 L2635.7 1188.4 L2636.0 1182.4 L2636.4 1176.3 L2636.8 1170.3 L2637.1 1164.2 L2637.5 1158.2 L2637.8 1152.2 L2638.1 1146.1 L2638.5 1140.1 L2638.8 1134.1 L2639.1 1128.1 L2639.4 1122.0 L2639.7 1116.0 L2640.0 1110.0 L2640.3 1104.0 L2640.6 1098.0 L2640.9 1092.0 L2641.1 1086.0 L2641.4 1080.0 L2641.7 1074.0 L2641.9 1068.0 L2642.2 1062.0 L2642.4 1056.0 L2642.7 1050.0 L2642.9 1044.0 L2643.2 1038.0 L2643.4 1032.0 L2643.6 1026.0 L2643.8 1020.0 L2644.0 1014.0 L2644.3 1008.0 L2644.5 1002.0 L2644.7 996.1 L2644.9 990.1 L2645.0 984.1 L2645.2 978.1 L2645.4 972.1 L2645.6 966.2 L2645.8 960.2 L2645.9 954.2 L2646.1 948.2 L2646.2 942.3 L2646.4 936.3 L2646.6 930.3 L2646.7 924.4 L2646.8 918.4 L2647.0 912.4 L2647.1 906.5 L2647.2 900.5 L2647.4 894.5 L2647.5 888.6 L2647.6 882.6 L2647.7 876.6 L2647.8 870.7 L2647.9 864.7 L2648.1 858.8 L2648.2 852.8 L2648.3 846.8 L2648.3 840.9 L2648.4 834.9 L2648.5 829.0 L2648.6 823.0 L2648.7 817.0 L2648.8 811.1 L2648.8 805.1 L2648.9 799.2 L2649.0 793.2 L2649.1 787.3 L2649.1 781.3 L2649.2 775.3 L2649.2 769.4 L2649.3 763.4 L2649.3 757.5 L2649.4 751.5 L2649.4 745.6 L2649.5 739.6 L2649.5 733.6 L2649.6 727.7 L2649.6 721.7 L2649.7 715.8 L2649.7 709.8 L2649.7 703.8 L2649.8 697.9 L2649.8 691.9 L2649.8 685.9 L2649.8 680.0 L2649.9 674.0 L2649.9 668.1 L2649.9 662.1 L2649.9 656.1 L2649.9 650.2 L2649.9 644.2 L2650.0 638.2 L2650.0 632.2 L2650.0 626.3 L2650.0 620.3 L2650.0 614.3 L2650.0 608.4 L2650.0 602.4 L2650.0 596.4 L2650.0 590.4 L2650.0 584.4 L2650.0 578.5 L2650.0 572.5 L2650.0 566.5 L2650.0 560.5 L2650.0 554.5 L2650.0 548.5 L2650.0 542.5 L2650.0 536.6 L2650.0 530.6 L2650.0 524.6 L2650.0 518.6 L2650.0 512.6 L2650.0 506.6 L2649.9 500.6 L2649.9 494.6 L2649.9 488.6 L2649.9 482.6 L2649.9 476.5 L2649.9 470.5 L2649.9 464.5 L2649.9 458.5 L2649.9 452.5 L2649.9 446.5 L2649.9 440.4 L2649.9 434.4 L2649.9 428.4 L2649.8 422.4 L2649.8 416.3 L2649.8 410.3 L2649.8 404.3 L2649.8 398.2 L2649.8 392.2 L2649.8 386.1 L2649.8 380.1 L2649.8 374.0 L2649.8 368.0 L2649.8 361.9 L2649.8 355.9 L2649.8 349.8 L2649.8 343.7 L2649.8 337.7 L2649.8 331.6 L2649.8 325.5 L2649.9 319.5 L2649.9 313.4 L2649.9 307.3 L2649.9 301.2 L2649.9 295.1 L2649.9 289.0 L2649.9 282.9 L2650.0 276.8 L2650.0 270.7 L2650.0 264.6 L2650.0 258.5 L2650.1 252.4 L2650.1 246.3 L2650.1 240.2 L2650.1 234.0 L2650.2 227.9 L2650.2 221.8 L2650.2 216.5" fill="none" stroke="#3f90da" stroke-width="17.0" stroke-dasharray="16.763 16.563" stroke-dashoffset="-17.30"/>
<path d="M864.7 216.5 L865.6 233.8" stroke="#3f90da" stroke-width="17.0"/>
<path d="M888.7 216.5 L888.8 222.7 L889.0 228.6 L889.2 234.6 L889.4 240.5 L889.5 246.5 L889.7 252.4 L889.9 258.4 L890.1 264.3 L890.3 270.3 L890.5 276.2 L890.6 282.2 L890.8 288.2 L891.0 294.1 L891.2 300.1 L891.4 306.1 L891.5 312.0 L891.7 318.0 L891.9 324.0 L892.1 330.0 L892.2 336.0 L892.4 342.0 L892.6 347.9 L892.8 353.9 L892.9 359.9 L893.1 365.9 L893.3 371.9 L893.5 377.9 L893.6 383.9 L893.8 389.9 L894.0 395.9 L894.2 401.9 L894.3 407.9 L894.5 413.9 L894.7 419.9 L894.9 425.9 L895.1 431.9 L895.2 437.9 L895.4 443.9 L895.6 449.9 L895.8 456.0 L896.0 462.0 L896.2 468.0 L896.4 474.0 L896.5 480.0 L896.7 486.0 L896.9 492.1 L897.1 498.1 L897.3 504.1 L897.5 510.1 L897.7 516.1 L897.9 522.2 L898.2 528.2 L898.4 534.2 L898.6 540.2 L898.8 546.3 L899.0 552.3 L899.2 558.3 L899.5 564.3 L899.7 570.4 L899.9 576.4 L900.1 582.4 L900.4 588.5 L900.6 594.5 L900.9 600.5 L901.1 606.5 L901.4 612.6 L901.6 618.6 L901.9 624.6 L902.1 630.7 L902.4 636.7 L902.7 642.7 L902.9 648.7 L903.2 654.8 L903.5 660.8 L903.8 666.8 L904.1 672.9 L904.3 678.9 L904.6 684.9 L904.9 690.9 L905.3 697.0 L905.6 703.0 L905.9 709.0 L906.2 715.0 L906.5 721.1 L906.9 727.1 L907.2 733.1 L907.5 739.1 L907.9 745.2 L908.2 751.2 L908.6 757.2 L909.0 763.2 L909.3 769.2 L909.7 775.3 L910.1 781.3 L910.5 787.3 L910.9 793.3 L911.2 799.3 L911.7 805.3 L912.1 811.3 L912.5 817.3 L912.9 823.4 L913.3 829.4 L913.8 835.4 L914.2 841.4 L914.7 847.4 L915.1 853.4 L915.6 859.4 L916.0 865.4 L916.5 871.4 L917.0 877.4 L917.5 883.4 L918.0 889.4 L918.5 895.3 L919.0 901.3 L919.5 907.3 L920.1 913.3 L920.6 919.3 L921.1 925.3 L921.7 931.2 L922.2 937.2 L922.8 943.2 L923.4 949.2 L924.0 955.1 L924.6 961.1 L925.2 967.1 L925.8 973.0 L926.4 979.0 L927.0 985.0 L927.6 990.9 L928.3 996.9 L928.9 1002.8 L929.6 1008.8 L930.3 1014.7 L931.0 1020.7 L931.6 1026.6 L932.3 1032.5 L933.0 1038.5 L933.8 1044.4 L934.5 1050.3 L935.2 1056.3 L936.0 1062.2 L936.7 1068.1 L937.5 1074.0 L938.3 1080.0 L939.0 1085.9 L939.8 1091.8 L940.6 1097.7 L941.5 1103.6 L942.3 1109.5 L943.1 1115.4 L944.0 1121.3 L944.8 1127.2 L945.7 1133.1 L946.6 1139.0 L947.5 1144.9 L948.4 1150.7 L949.3 1156.6 L950.3 1162.5 L951.3 1168.4 L952.2 1174.3 L953.2 1180.2 L954.2 1186.0 L955.3 1191.9 L956.3 1197.8 L957.4 1203.7 L958.5 1209.5 L959.6 1215.4 L960.7 1221.3 L961.9 1227.2 L963.1 1233.1 L964.3 1238.9 L965.5 1244.8 L966.7 1250.7 L968.0 1256.6 L969.3 1262.5 L970.6 1268.4 L971.9 1274.3 L973.3 1280.1 L974.7 1286.0 L976.1 1291.9 L977.6 1297.8 L979.0 1303.7 L980.5 1309.6 L982.1 1315.5 L983.6 1321.4 L985.3 1327.3 L986.9 1333.2 L988.6 1339.0 L990.3 1344.9 L992.0 1350.7 L993.8 1356.6 L995.7 1362.4 L997.6 1368.2 L999.5 1373.9 L1001.4 1379.7 L1003.5 1385.4 L1005.5 1391.2 L1007.6 1396.9 L1009.8 1402.5 L1012.0 1408.2 L1014.3 1413.8 L1016.6 1419.3 L1019.0 1424.9 L1021.4 1430.4 L1023.9 1435.9 L1026.5 1441.3 L1029.1 1446.7 L1031.8 1452.1 L1034.5 1457.4 L1037.4 1462.7 L1040.2 1468.0 L1043.2 1473.2 L1046.2 1478.3 L1049.3 1483.4 L1052.4 1488.4 L1055.6 1493.4 L1059.0 1498.4 L1062.3 1503.3 L1065.8 1508.1 L1069.3 1512.9 L1072.9 1517.6 L1076.6 1522.3 L1080.3 1526.9 L1084.1 1531.5 L1088.0 1536.0 L1092.0 1540.4 L1096.0 1544.8 L1100.1 1549.1 L1104.2 1553.4 L1108.4 1557.6 L1112.7 1561.8 L1117.0 1565.9 L1121.4 1569.9 L1125.9 1573.9 L1130.4 1577.8 L1134.9 1581.7 L1139.5 1585.5 L1144.2 1589.3 L1148.9 1593.0 L1153.7 1596.7 L1158.5 1600.3 L1163.3 1603.8 L1168.2 1607.3 L1173.2 1610.7 L1178.1 1614.1 L1183.2 1617.4 L1188.2 1620.6 L1193.3 1623.8 L1198.5 1626.9 L1203.7 1630.0 L1208.9 1633.0 L1214.1 1636.0 L1219.4 1638.9 L1224.7 1641.8 L1230.1 1644.6 L1235.4 1647.3 L1240.8 1650.0 L1246.2 1652.6 L1251.7 1655.1 L1257.2 1657.7 L1262.6 1660.1 L1268.2 1662.5 L1273.7 1664.8 L1279.2 1667.1 L1284.8 1669.3 L1290.4 1671.5 L1296.0 1673.6 L1301.6 1675.6 L1307.2 1677.6 L1312.9 1679.6 L1318.5 1681.5 L1324.2 1683.3 L1329.9 1685.1 L1335.6 1686.8 L1341.3 1688.5 L1347.1 1690.2 L1352.8 1691.8 L1358.6 1693.3 L1364.3 1694.8 L1370.1 1696.3 L1375.9 1697.7 L1381.8 1699.1 L1387.6 1700.5 L1393.4 1701.8 L1399.3 1703.0 L1405.1 1704.2 L1411.0 1705.4 L1416.9 1706.6 L1422.8 1707.7 L1428.6 1708.8 L1434.6 1709.8 L1440.5 1710.8 L1446.4 1711.8 L1452.3 1712.7 L1458.3 1713.7 L1464.2 1714.5 L1470.2 1715.4 L1476.1 1716.2 L1482.1 1717.0 L1488.1 1717.8 L1494.1 1718.6 L1500.0 1719.3 L1506.0 1720.0 L1512.0 1720.7 L1518.0 1721.3 L1524.0 1722.0 L1530.1 1722.6 L1536.1 1723.2 L1542.1 1723.8 L1548.1 1724.3 L1554.1 1724.9 L1560.2 1725.4 L1566.2 1725.9 L1572.2 1726.4 L1578.2 1726.9 L1584.3 1727.4 L1590.3 1727.8 L1596.3 1728.3 L1602.4 1728.7 L1608.4 1729.2 L1614.4 1729.6 L1620.5 1730.0 L1626.5 1730.4 L1632.5 1730.8 L1638.6 1731.2 L1644.6 1731.6 L1650.6 1732.0 L1656.7 1732.4 L1662.7 1732.8 L1668.7 1733.2 L1674.7 1733.5 L1680.7 1733.9 L1686.8 1734.2 L1692.8 1734.6 L1698.8 1734.9 L1704.8 1735.3 L1710.8 1735.6 L1716.8 1735.9 L1722.8 1736.2 L1728.8 1736.5 L1734.9 1736.8 L1740.9 1737.1 L1746.9 1737.4 L1752.9 1737.7 L1758.9 1737.9 L1764.9 1738.2 L1770.9 1738.4 L1776.9 1738.7 L1782.9 1738.9 L1788.9 1739.1 L1794.9 1739.3 L1800.9 1739.5 L1806.9 1739.7 L1812.9 1739.9 L1818.9 1740.0 L1824.8 1740.2 L1830.8 1740.3 L1836.8 1740.5 L1842.8 1740.6 L1848.8 1740.7 L1854.8 1740.8 L1860.8 1740.9 L1866.8 1741.0 L1872.8 1741.0 L1878.7 1741.1 L1884.7 1741.1 L1890.7 1741.1 L1896.7 1741.2 L1902.7 1741.2 L1908.7 1741.1 L1914.6 1741.1 L1920.6 1741.1 L1926.6 1741.0 L1932.6 1741.0 L1938.6 1740.9 L1944.5 1740.8 L1950.5 1740.7 L1956.5 1740.6 L1962.5 1740.4 L1968.4 1740.3 L1974.4 1740.1 L1980.4 1739.9 L1986.4 1739.7 L1992.3 1739.5 L1998.3 1739.3 L2004.3 1739.0 L2010.3 1738.8 L2016.2 1738.5 L2022.2 1738.2 L2028.2 1737.9 L2034.1 1737.5 L2040.1 1737.2 L2046.1 1736.8 L2052.1 1736.4 L2058.0 1736.0 L2064.0 1735.6 L2070.0 1735.2 L2075.9 1734.7 L2081.9 1734.3 L2087.9 1733.8 L2093.8 1733.3 L2099.8 1732.7 L2105.8 1732.2 L2111.8 1731.6 L2117.7 1731.0 L2123.7 1730.4 L2129.7 1729.8 L2135.6 1729.2 L2141.6 1728.5 L2147.6 1727.8 L2153.5 1727.1 L2159.5 1726.4 L2165.5 1725.6 L2171.5 1724.9 L2177.4 1724.1 L2183.4 1723.3 L2189.4 1722.4 L2195.3 1721.6 L2201.3 1720.7 L2207.3 1719.8 L2213.2 1718.9 L2219.2 1718.0 L2225.2 1717.0 L2231.2 1716.0 L2237.1 1715.0 L2243.1 1714.0 L2249.1 1712.9 L2255.0 1711.8 L2261.0 1710.7 L2267.0 1709.6 L2272.9 1708.4 L2278.9 1707.2 L2284.8 1705.9 L2290.7 1704.6 L2296.6 1703.2 L2302.5 1701.8 L2308.4 1700.4 L2314.3 1698.9 L2320.1 1697.3 L2325.9 1695.7 L2331.7 1694.1 L2337.5 1692.3 L2343.2 1690.5 L2349.0 1688.6 L2354.6 1686.7 L2360.3 1684.7 L2365.9 1682.6 L2371.5 1680.4 L2377.0 1678.1 L2382.5 1675.8 L2388.0 1673.4 L2393.4 1670.8 L2398.8 1668.2 L2404.1 1665.5 L2409.4 1662.7 L2414.7 1659.8 L2419.9 1656.8 L2425.0 1653.7 L2430.1 1650.5 L2435.1 1647.3 L2440.0 1643.9 L2444.9 1640.5 L2449.8 1636.9 L2454.5 1633.3 L2459.2 1629.6 L2463.9 1625.8 L2468.4 1621.9 L2472.9 1617.9 L2477.3 1613.9 L2481.6 1609.7 L2485.9 1605.5 L2490.0 1601.2 L2494.1 1596.8 L2498.1 1592.4 L2502.0 1587.8 L2505.8 1583.2 L2509.5 1578.6 L2513.1 1573.8 L2516.6 1569.0 L2520.0 1564.1 L2523.4 1559.1 L2526.6 1554.1 L2529.8 1549.0 L2532.8 1543.8 L2535.8 1538.6 L2538.7 1533.4 L2541.5 1528.1 L2544.2 1522.7 L2546.9 1517.3 L2549.4 1511.9 L2551.9 1506.4 L2554.3 1500.9 L2556.7 1495.3 L2558.9 1489.7 L2561.1 1484.1 L2563.2 1478.4 L2565.3 1472.8 L2567.3 1467.1 L2569.2 1461.3 L2571.0 1455.6 L2572.8 1449.9 L2574.6 1444.1 L2576.2 1438.3 L2577.8 1432.5 L2579.4 1426.7 L2580.9 1420.9 L2582.3 1415.1 L2583.7 1409.2 L2585.1 1403.4 L2586.4 1397.5 L2587.6 1391.6 L2588.9 1385.8 L2590.0 1379.9 L2591.1 1374.0 L2592.2 1368.1 L2593.3 1362.2 L2594.3 1356.2 L2595.3 1350.3 L2596.2 1344.4 L2597.1 1338.4 L2598.0 1332.5 L2598.9 1326.5 L2599.7 1320.6 L2600.5 1314.6 L2601.3 1308.7 L2602.0 1302.7 L2602.8 1296.7 L2603.5 1290.7 L2604.2 1284.8 L2604.9 1278.8 L2605.6 1272.8 L2606.3 1266.8 L2606.9 1260.9 L2607.6 1254.9 L2608.2 1248.9 L2608.9 1242.9 L2609.5 1236.9 L2610.1 1231.0 L2610.7 1225.0 L2611.3 1219.0 L2611.9 1213.0 L2612.5 1207.0 L2613.0 1201.0 L2613.6 1195.1 L2614.1 1189.1 L2614.7 1183.1 L2615.2 1177.1 L2615.7 1171.1 L2616.2 1165.1 L2616.7 1159.2 L2617.2 1153.2 L2617.7 1147.2 L2618.1 1141.2 L2618.6 1135.2 L2619.0 1129.2 L2619.5 1123.2 L2619.9 1117.2 L2620.3 1111.2 L2620.8 1105.3 L2621.2 1099.3 L2621.6 1093.3 L2622.0 1087.3 L2622.4 1081.3 L2622.7 1075.3 L2623.1 1069.3 L2623.5 1063.3 L2623.8 1057.3 L2624.2 1051.3 L2624.5 1045.3 L2624.8 1039.3 L2625.1 1033.3 L2625.5 1027.3 L2625.8 1021.3 L2626.1 1015.3 L2626.4 1009.4 L2626.7 1003.4 L2626.9 997.4 L2627.2 991.4 L2627.5 985.4 L2627.7 979.4 L2628.0 973.4 L2628.2 967.4 L2628.5 961.4 L2628.7 955.4 L2628.9 949.4 L2629.2 943.4 L2629.4 937.4 L2629.6 931.4 L2629.8 925.4 L2630.0 919.4 L2630.2 913.4 L2630.4 907.4 L2630.5 901.4 L2630.7 895.4 L2630.9 889.4 L2631.0 883.4 L2631.2 877.3 L2631.4 871.3 L2631.5 865.3 L2631.7 859.3 L2631.8 853.3 L2631.9 847.3 L2632.1 841.3 L2632.2 835.3 L2632.3 829.3 L2632.4 823.3 L2632.5 817.3 L2632.6 811.3 L2632.7 805.3 L2632.8 799.3 L2632.9 793.3 L2633.0 787.3 L2633.1 781.3 L2633.2 775.3 L2633.3 769.3 L2633.3 763.2 L2633.4 757.2 L2633.5 751.2 L2633.5 745.2 L2633.6 739.2 L2633.6 733.2 L2633.7 727.2 L2633.7 721.2 L2633.8 715.2 L2633.8 709.2 L2633.9 703.2 L2633.9 697.2 L2633.9 691.1 L2634.0 685.1 L2634.0 679.1 L2634.0 673.1 L2634.1 667.1 L2634.1 661.1 L2634.1 655.1 L2634.1 649.1 L2634.1 643.1 L2634.2 637.1 L2634.2 631.1 L2634.2 625.0 L2634.2 619.0 L2634.2 613.0 L2634.2 607.0 L2634.2 601.0 L2634.2 595.0 L2634.2 589.0 L2634.2 583.0 L2634.2 577.0 L2634.2 571.0 L2634.2 564.9 L2634.2 558.9 L2634.2 552.9 L2634.2 546.9 L2634.2 540.9 L2634.2 534.9 L2634.2 528.9 L2634.2 522.9 L2634.1 516.9 L2634.1 510.9 L2634.1 504.8 L2634.1 498.8 L2634.1 492.8 L2634.1 486.8 L2634.1 480.8 L2634.1 474.8 L2634.1 468.8 L2634.1 462.8 L2634.1 456.8 L2634.1 450.8 L2634.0 444.8 L2634.0 438.7 L2634.0 432.7 L2634.0 426.7 L2634.0 420.7 L2634.0 414.7 L2634.0 408.7 L2634.0 402.7 L2634.0 396.7 L2634.0 390.7 L2634.0 384.7 L2634.0 378.7 L2634.0 372.6 L2634.1 366.6 L2634.1 360.6 L2634.1 354.6 L2634.1 348.6 L2634.1 342.6 L2634.1 336.6 L2634.2 330.6 L2634.2 324.6 L2634.2 318.6 L2634.2 312.6 L2634.3 306.6 L2634.3 300.6 L2634.3 294.6 L2634.4 288.6 L2634.4 282.5 L2634.5 276.5 L2634.5 270.5 L2634.6 264.5 L2634.6 258.5 L2634.7 252.5 L2634.7 246.5 L2634.8 240.5 L2634.9 234.5 L2634.9 228.5 L2635.0 222.5 L2634.9 216.5" fill="none" stroke="#000" stroke-width="21"/>
</g>
<rect x="1305.2" y="273" width="209.8" height="121.3" fill="url(#h)"/>
<path d="M1305.2 333.6H1515" stroke="#000" stroke-width="21"/>
<path d="M1305.2 507.3H1515" stroke="#3f90da" stroke-width="17" stroke-dasharray="16.7 16.5"/>
<path d="M1305.2 681.6H1515" stroke="#bd1f01" stroke-width="17" stroke-dasharray="16.7 16.5"/>
<path d="M473.00 2668.60v-29.3M473.00 216.45v29.3M518.99 2668.60v-14.6M518.99 216.45v14.6M564.98 2668.60v-14.6M564.98 216.45v14.6M610.97 2668.60v-14.6M610.97 216.45v14.6M656.96 2668.60v-14.6M656.96 216.45v14.6M702.95 2668.60v-29.3M702.95 216.45v29.3M748.94 2668.60v-14.6M748.94 216.45v14.6M794.93 2668.60v-14.6M794.93 216.45v14.6M840.92 2668.60v-14.6M840.92 216.45v14.6M886.91 2668.60v-14.6M886.91 216.45v14.6M932.90 2668.60v-29.3M932.90 216.45v29.3M978.89 2668.60v-14.6M978.89 216.45v14.6M1024.88 2668.60v-14.6M1024.88 216.45v14.6M1070.87 2668.60v-14.6M1070.87 216.45v14.6M1116.86 2668.60v-14.6M1116.86 216.45v14.6M1162.85 2668.60v-29.3M1162.85 216.45v29.3M1208.84 2668.60v-14.6M1208.84 216.45v14.6M1254.83 2668.60v-14.6M1254.83 216.45v14.6M1300.82 2668.60v-14.6M1300.82 216.45v14.6M1346.81 2668.60v-14.6M1346.81 216.45v14.6M1392.80 2668.60v-29.3M1392.80 216.45v29.3M1438.79 2668.60v-14.6M1438.79 216.45v14.6M1484.78 2668.60v-14.6M1484.78 216.45v14.6M1530.77 2668.60v-14.6M1530.77 216.45v14.6M1576.76 2668.60v-14.6M1576.76 216.45v14.6M1622.75 2668.60v-29.3M1622.75 216.45v29.3M1668.74 2668.60v-14.6M1668.74 216.45v14.6M1714.73 2668.60v-14.6M1714.73 216.45v14.6M1760.72 2668.60v-14.6M1760.72 216.45v14.6M1806.71 2668.60v-14.6M1806.71 216.45v14.6M1852.70 2668.60v-29.3M1852.70 216.45v29.3M1898.69 2668.60v-14.6M1898.69 216.45v14.6M1944.68 2668.60v-14.6M1944.68 216.45v14.6M1990.67 2668.60v-14.6M1990.67 216.45v14.6M2036.66 2668.60v-14.6M2036.66 216.45v14.6M2082.65 2668.60v-29.3M2082.65 216.45v29.3M2128.64 2668.60v-14.6M2128.64 216.45v14.6M2174.63 2668.60v-14.6M2174.63 216.45v14.6M2220.62 2668.60v-14.6M2220.62 216.45v14.6M2266.61 2668.60v-14.6M2266.61 216.45v14.6M2312.60 2668.60v-29.3M2312.60 216.45v29.3M2358.59 2668.60v-14.6M2358.59 216.45v14.6M2404.58 2668.60v-14.6M2404.58 216.45v14.6M2450.57 2668.60v-14.6M2450.57 216.45v14.6M2496.56 2668.60v-14.6M2496.56 216.45v14.6M2542.55 2668.60v-29.3M2542.55 216.45v29.3M2588.54 2668.60v-14.6M2588.54 216.45v14.6M2634.53 2668.60v-14.6M2634.53 216.45v14.6M2680.52 2668.60v-14.6M2680.52 216.45v14.6M2726.51 2668.60v-14.6M2726.51 216.45v14.6M2772.50 2668.60v-29.3M2772.50 216.45v29.3M473.00 2668.60h32.7M2772.50 2668.60h-32.7M473.00 2570.51h16.3M2772.50 2570.51h-16.3M473.00 2472.43h16.3M2772.50 2472.43h-16.3M473.00 2374.34h16.3M2772.50 2374.34h-16.3M473.00 2276.26h16.3M2772.50 2276.26h-16.3M473.00 2178.17h32.7M2772.50 2178.17h-32.7M473.00 2080.08h16.3M2772.50 2080.08h-16.3M473.00 1982.00h16.3M2772.50 1982.00h-16.3M473.00 1883.91h16.3M2772.50 1883.91h-16.3M473.00 1785.83h16.3M2772.50 1785.83h-16.3M473.00 1687.74h32.7M2772.50 1687.74h-32.7M473.00 1589.65h16.3M2772.50 1589.65h-16.3M473.00 1491.57h16.3M2772.50 1491.57h-16.3M473.00 1393.48h16.3M2772.50 1393.48h-16.3M473.00 1295.40h16.3M2772.50 1295.40h-16.3M473.00 1197.31h32.7M2772.50 1197.31h-32.7M473.00 1099.22h16.3M2772.50 1099.22h-16.3M473.00 1001.14h16.3M2772.50 1001.14h-16.3M473.00 903.05h16.3M2772.50 903.05h-16.3M473.00 804.97h16.3M2772.50 804.97h-16.3M473.00 706.88h32.7M2772.50 706.88h-32.7M473.00 608.79h16.3M2772.50 608.79h-16.3M473.00 510.71h16.3M2772.50 510.71h-16.3M473.00 412.62h16.3M2772.50 412.62h-16.3M473.00 314.54h16.3M2772.50 314.54h-16.3M473.00 216.45h32.7M2772.50 216.45h-32.7" stroke="#000" stroke-width="4.4" fill="none"/>
<rect x="473.00" y="216.45" width="2299.50" height="2452.15" fill="none" stroke="#000" stroke-width="4.8"/>
<text transform="translate(472.4 174.4) scale(1.000 1.043)" font-size="121.0" font-weight="bold">CMS</text>
<text transform="translate(1892.7 171.3) scale(1.000 1.043)" font-size="120.6" x="0.0 64.5 132.0 198.3 231.5 265.8">138 fb</text>
<text transform="translate(2222.0 117.5) scale(1.000 1.043)" font-size="81.4">-1</text>
<text transform="translate(2310.4 171.3) scale(1.000 1.043)" font-size="120.6" x="0.0 43.2 106.4 173.6 207.2 279.7 349.5 428.8">(13 TeV)</text>
<text transform="translate(443.4 2790.2) scale(1.000 1.042)" font-size="106.5">0</text>
<text transform="translate(637.5 2790.2) scale(1.000 1.042)" font-size="106.5" x="0.0 59.2 90.8">0.1</text>
<text transform="translate(859.5 2790.2) scale(1.000 1.042)" font-size="106.5">0.2</text>
<text transform="translate(1089.1 2790.2) scale(1.000 1.042)" font-size="106.5">0.3</text>
<text transform="translate(1318.3 2790.2) scale(1.000 1.042)" font-size="106.5">0.4</text>
<text transform="translate(1548.9 2790.2) scale(1.000 1.042)" font-size="106.5">0.5</text>
<text transform="translate(1778.9 2790.2) scale(1.000 1.042)" font-size="106.5">0.6</text>
<text transform="translate(2009.2 2790.2) scale(1.000 1.042)" font-size="106.5">0.7</text>
<text transform="translate(2238.8 2790.2) scale(1.000 1.042)" font-size="106.5">0.8</text>
<text transform="translate(2469.0 2790.2) scale(1.000 1.042)" font-size="106.5">0.9</text>
<text transform="translate(2750.5 2790.2) scale(1.000 1.042)" font-size="106.5">1</text>
<text transform="translate(443.7 2706.0) scale(1.000 1.042)" font-size="106.5" text-anchor="end">0</text>
<text transform="translate(442.2 2215.6) scale(1.000 1.042)" font-size="106.5" text-anchor="end">5</text>
<text transform="translate(327.3 1725.1) scale(1.000 1.042)" font-size="106.5" x="0.0 57.2">10</text>
<text transform="translate(325.8 1234.7) scale(1.000 1.042)" font-size="106.5" x="0.0 57.2">15</text>
<text transform="translate(443.7 744.3) scale(1.000 1.042)" font-size="106.5" text-anchor="end">20</text>
<text transform="translate(442.2 253.8) scale(1.000 1.042)" font-size="106.5" text-anchor="end">25</text>
<text transform="translate(2475.8 2989.8) scale(1.000 1.000)" font-size="143.5">sin</text>
<text class="sy" transform="translate(2697.7 2990.4) scale(1.664 1.423)" font-size="100">θ</text>
<text transform="translate(130.8 535.9) rotate(-90)" font-size="143.5">tan</text>
<text class="sy" transform="translate(130.8 295.5) rotate(-90) scale(1.632 1.516)" font-size="100">β</text>
<text transform="translate(1556.5 371.2) scale(1.000 1.020)" font-size="92.0">Observed</text>
<text transform="translate(1556.5 543.4) scale(1.000 1.020)" font-size="92.0">Median expected</text>
<text transform="translate(1556.5 719.6) scale(1.000 1.020)" font-size="92.0">95% expected</text>
<text transform="translate(1258.3 919.0) scale(1.000 1.030)" font-size="92.0" font-weight="bold" fill="#6e7a88">2HDM</text>
<text transform="translate(1518.5 926.4) scale(0.965 0.934)" font-size="92.0" font-weight="bold" fill="#6e7a88">+</text>
<text transform="translate(1571.7 919.0) scale(1.000 1.030)" font-size="92.0" font-weight="bold" fill="#6e7a88">a,</text>
<text transform="translate(1671.9 919.0) scale(1.000 1.030)" font-size="92.0" font-weight="bold" fill="#6e7a88">m</text>
<text transform="translate(1751.3 961.9) scale(1.000 1.040)" font-size="60.0" font-weight="bold" fill="#6e7a88">H</text>
<text transform="translate(1793.7 925.2) scale(1.000 0.905)" font-size="92.0" font-weight="bold" fill="#6e7a88">=</text>
<text transform="translate(1846.4 919.0) scale(1.000 1.030)" font-size="92.0" font-weight="bold" fill="#6e7a88">m</text>
<text transform="translate(1923.3 944.1) scale(1.000 1.040)" font-size="60.0" font-weight="bold" fill="#6e7a88">A</text>
<text transform="translate(1966.8 925.2) scale(1.000 0.905)" font-size="92.0" font-weight="bold" fill="#6e7a88">=</text>
<text transform="translate(2018.4 919.0) scale(1.000 1.030)" font-size="92.0" font-weight="bold" fill="#6e7a88">m</text>
<text transform="translate(2096.3 950.6) scale(1.000 1.040)" font-size="60.0" font-weight="bold" fill="#6e7a88">H</text>
<text class="sy" x="2136.7" y="922.6" font-size="48.5" fill="#6e7a88">±</text>
<text transform="translate(1257.8 1073.6) scale(1.000 1.030)" font-size="92.0" font-weight="bold" fill="#6e7a88">m</text>
<text transform="translate(1336.3 1098.7) scale(1.000 1.040)" font-size="60.0" font-weight="bold" fill="#6e7a88">H</text>
<text transform="translate(1379.8 1079.8) scale(1.000 0.905)" font-size="92.0" font-weight="bold" fill="#6e7a88">=</text>
<text transform="translate(1430.4 1073.6) scale(1.000 1.030)" font-size="92.0" font-weight="bold" fill="#6e7a88">800</text>
<text transform="translate(1609.5 1073.6) scale(1.000 1.030)" font-size="92.0" font-weight="bold" fill="#6e7a88">GeV,</text>
<text transform="translate(1843.8 1073.6) scale(1.000 1.030)" font-size="92.0" font-weight="bold" fill="#6e7a88">m</text>
<text transform="translate(1919.9 1111.9) scale(1.000 1.040)" font-size="60.0" font-weight="bold" fill="#6e7a88">a</text>
<text transform="translate(1955.6 1079.8) scale(1.000 0.905)" font-size="92.0" font-weight="bold" fill="#6e7a88">=</text>
<text transform="translate(2008.6 1073.6) scale(1.000 1.030)" font-size="92.0" font-weight="bold" fill="#6e7a88">300</text>
<text transform="translate(2185.7 1073.6) scale(1.000 1.030)" font-size="92.0" font-weight="bold" fill="#6e7a88">GeV</text>
<text transform="translate(1258.4 1225.0) scale(1.000 1.030)" font-size="92.0" font-weight="bold" fill="#6e7a88">m</text>
<text class="sy" transform="translate(1337.2 1241.4) scale(0.684 0.624)" font-size="100" fill="#6e7a88">χ</text>
<text transform="translate(1367.9 1231.2) scale(1.000 0.905)" font-size="92.0" font-weight="bold" fill="#6e7a88">=</text>
<text transform="translate(1421.8 1225.0) scale(1.000 1.030)" font-size="92.0" font-weight="bold" fill="#6e7a88">45</text>
<text transform="translate(1549.1 1225.0) scale(1.000 1.030)" font-size="92.0" font-weight="bold" fill="#6e7a88">GeV,</text>
<text transform="translate(1782.4 1225.0) scale(1.000 1.030)" font-size="92.0" font-weight="bold" fill="#6e7a88">y</text>
<text class="sy" transform="translate(1834.0 1262.1) scale(0.678 0.652)" font-size="100" fill="#6e7a88">χ</text>
<text transform="translate(1864.0 1231.2) scale(1.000 0.905)" font-size="92.0" font-weight="bold" fill="#6e7a88">=</text>
<text transform="translate(1917.0 1225.0) scale(1.000 1.030)" font-size="92.0" font-weight="bold" fill="#6e7a88">1</text>
</svg></body></html>
